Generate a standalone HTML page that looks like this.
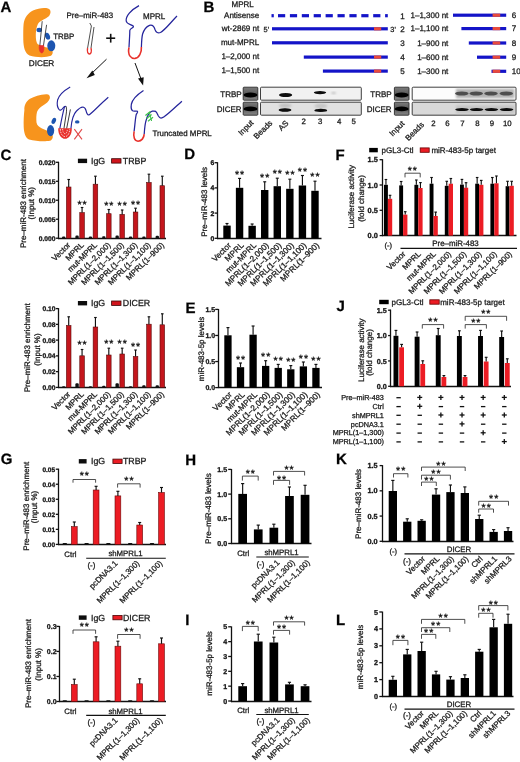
<!DOCTYPE html>
<html><head><meta charset="utf-8"><title>Figure</title>
<style>
html,body{margin:0;padding:0;background:#fff;width:520px;height:762px;overflow:hidden}
svg{display:block;font-family:"Liberation Sans", sans-serif}
text{stroke:#1a1a1a;stroke-width:0.28px;text-rendering:geometricPrecision}
text[font-weight=bold]{stroke-width:0.3px}
</style></head>
<body>
<div style="will-change:transform;width:520px;height:762px">
<svg width="520" height="762" viewBox="0 0 520 762">
<rect x="0" y="0" width="520" height="762" fill="#ffffff"/>
<text x="0.6" y="11.9" font-size="15" text-anchor="start" font-weight="bold" fill="#000">A</text>
<path d="M23.6 24 C24.5 17.5 28 13 33 10.5 C38 8.3 44 7.4 48 8.5 C50.8 9.4 51.3 12.5 49.4 15.5 C47.5 18 42 20 39 22.5 C36.8 25 36 30 35.8 35 C35.8 39 36.2 42 37.5 44 C40 46 45 47 49 48 C53 49 54 53.5 51 55.8 C46 57.8 36 57.6 29.5 55.5 C25 53.5 23.4 47 23.3 40 C23.2 33 23.2 28 23.6 24 Z" fill="#f7941d" stroke="none" stroke-width="0"/>
<ellipse cx="39.2" cy="30.0" rx="2.7" ry="2.2" fill="#1d55b0"/>
<ellipse cx="47.5" cy="36.2" rx="2.4" ry="3.6" fill="#1d55b0" transform="rotate(-20 47.5 36.2)"/>
<ellipse cx="51.3" cy="45.8" rx="4.0" ry="5.5" fill="#1d55b0"/>
<path d="M42.2 21.2 L39.8 46" fill="none" stroke="#222" stroke-width="0.8"/>
<path d="M46.6 24.8 L43.4 46" fill="none" stroke="#222" stroke-width="0.8"/>
<path d="M39.3 45.5 C38.6 50.5 40.5 53 41.8 53 C43 53 44.4 50.5 43.8 45.5 Z" fill="#e8312b" stroke="#e8312b" stroke-width="0.6"/>
<text x="53.2" y="39.14" font-size="7.9" text-anchor="start" fill="#222">TRBP</text>
<text x="28.8" y="66.15" font-size="8.2" text-anchor="start" fill="#222">DICER</text>
<text x="66.6" y="17.54" font-size="7.9" text-anchor="start" fill="#222">Pre–miR-483</text>
<path d="M89.8 23 L91.4 26 L87.6 48" fill="none" stroke="#222" stroke-width="0.8"/>
<path d="M94 27 L91 48" fill="none" stroke="#222" stroke-width="0.8"/>
<path d="M87.6 48 C86 56 93 56 91 48" fill="none" stroke="#e8312b" stroke-width="1.4"/>
<line x1="106.2" y1="38.2" x2="115.2" y2="38.2" stroke="#111" stroke-width="1.6"/>
<line x1="110.7" y1="33.8" x2="110.7" y2="42.6" stroke="#111" stroke-width="1.6"/>
<text x="143" y="19.08" font-size="8" text-anchor="start" fill="#222">MPRL</text>
<path d="M139 5.6 C131 10 125.5 16 126.2 21 C126.8 24.5 131 24.2 133.2 26 C134.5 27.6 130 28 129.8 30.5 C129.8 36 129.2 42 129 47.5" fill="none" stroke="#25259c" stroke-width="1.25"/>
<path d="M141.4 47 C141.6 41 141.8 37 142.6 34 C144 29.5 146.5 26.5 149.5 25.3 C152.5 24.5 154 26 155 29.5 C156 32.5 158 33.6 160.5 32.5 C165.5 29.5 171 22 177 16" fill="none" stroke="#25259c" stroke-width="1.25"/>
<path d="M129 47.5 C127.2 55.5 131.5 58.8 135 58.4 C139 57.8 141.8 52.5 141.4 47" fill="none" stroke="#e8312b" stroke-width="1.6"/>
<line x1="106.5" y1="59.2" x2="89.5" y2="75.5" stroke="#111" stroke-width="1"/>
<path d="M86.6 78.3 L92.4 70.5 L94.8 74.9 Z" fill="#111" stroke="none" stroke-width="0"/>
<line x1="135" y1="63" x2="141.6" y2="80.5" stroke="#111" stroke-width="1"/>
<path d="M143.1 85.4 L138.0 78.6 L143.7 77.2 Z" fill="#111" stroke="none" stroke-width="0"/>
<path d="M24.4 110 C24 106 26 101 30 98.75 C34 96.5 40 94.5 46.25 94.2 C49 94 50.5 96 49.8 98.5 C49 101.5 46 103.5 43 105.5 C40.5 107 38 109 37 112 C36.2 115 36.2 119 36.5 122.5 C37 125.5 39 127 42 128.5 C46 130 50 131.5 52.3 134.5 C53.5 137 52.5 140 50 140.8 C45 141.6 36 141.4 29 139.5 C25.5 138 24 133 23.7 127 C23.5 121 23.8 115 24.4 110 Z" fill="#f7941d" stroke="none" stroke-width="0"/>
<ellipse cx="53.8" cy="120.8" rx="2.0" ry="3.2" fill="#1d55b0" transform="rotate(25 53.8 120.8)"/>
<ellipse cx="50.6" cy="130.6" rx="3.6" ry="5.6" fill="#1d55b0"/>
<ellipse cx="77.2" cy="121.9" rx="2.3" ry="1.6" fill="#1d55b0"/>
<path d="M70.2 87 C65 90 59 95 57.6 100 C56.8 104 57.5 107.5 59 109.5 C60 110.8 61.5 110.2 63 108 C64 106.5 65.3 105.8 66.2 106.6" fill="none" stroke="#25259c" stroke-width="1.15"/>
<path d="M64.6 106.4 C63.4 111 61.8 118 59.8 128.6" fill="none" stroke="#25259c" stroke-width="1.15"/>
<path d="M70.9 128.8 C71.5 121 73.5 114 76.5 111 C78.5 108.8 80.5 107.2 83 107 C84.5 107.2 85.5 108.4 86 110.5 C86.6 113 87.2 114.8 88.6 115 C91 114.5 96 108 108.3 97.3" fill="none" stroke="#25259c" stroke-width="1.15"/>
<path d="M66 106.4 C66.8 108.5 66.6 111 66.2 114 L63.9 128.8" fill="none" stroke="#1a1a1a" stroke-width="0.85"/>
<path d="M70.4 109.4 L66.6 128.8" fill="none" stroke="#1a1a1a" stroke-width="0.85"/>
<path d="M58.2 128.2 L71.8 128.2 C72 134.8 68.5 138.8 65 138.8 C61.5 138.8 58 134.8 58.2 128.2 Z" fill="#e8312b" stroke="none" stroke-width="0"/>
<path d="M60.3 129 C60.4 133.6 62.5 136.6 65 136.6 C67.5 136.6 69.6 133.6 69.7 129" fill="none" stroke="#fff" stroke-width="0.8" stroke-dasharray="1.6 1.1"/>
<path d="M62.6 129 C62.7 131.8 63.7 133.8 65 133.8 C66.3 133.8 67.3 131.8 67.4 129" fill="none" stroke="#fff" stroke-width="0.7" stroke-dasharray="1.3 1.0"/>
<line x1="74.3" y1="129.2" x2="82" y2="139.4" stroke="#e04848" stroke-width="1.1"/>
<line x1="82" y1="129.2" x2="74.3" y2="139.4" stroke="#e04848" stroke-width="1.1"/>
<path d="M143.5 90.4 C138 94 132.5 99 131.4 104 C130.8 107.5 131.6 110 132.6 110.8 C134 111.6 136.2 110.6 137.5 111.2 C138.2 111.8 137 113.2 136.2 114.6 C135.4 118 135 124 134.1 131.4" fill="none" stroke="#25259c" stroke-width="1.25"/>
<path d="M144.2 134.1 C144.6 128 145.2 123 146.2 120 C147 117 148 115 148.9 113.9 C150 112.4 151 111.5 152.3 111.2 C154 110.9 155 111 155.7 111.4 C157 112.5 157.6 114.5 158.4 116 C159.2 117.4 160 118 161 118 C162.5 118 163.5 117.2 164.4 116.6 C170 112.5 176 106.5 181.9 101.2" fill="none" stroke="#25259c" stroke-width="1.25"/>
<path d="M134.1 131.4 C133 137 134.5 141 138 141.2 C141.5 141.2 144 138 144.2 134.1" fill="none" stroke="#e8312b" stroke-width="1.6"/>
<line x1="145.4" y1="115.6" x2="150.4" y2="111.6" stroke="#3cc04a" stroke-width="1.3"/>
<line x1="146.6" y1="118.6" x2="151.6" y2="114.6" stroke="#3cc04a" stroke-width="1.3"/>
<line x1="148" y1="121.2" x2="153" y2="117.2" stroke="#3cc04a" stroke-width="1.3"/>
<line x1="149.2" y1="112" x2="151.6" y2="121" stroke="#3cc04a" stroke-width="1"/>
<text x="152.4" y="135.64" font-size="7.9" text-anchor="start" fill="#222">Truncated MPRL</text>
<text x="203.6" y="12.2" font-size="15" text-anchor="start" font-weight="bold" fill="#000">B</text>
<text x="242.7" y="6.98" font-size="8" text-anchor="middle" fill="#1a1a1a">MPRL</text>
<text x="259.2" y="18.48" font-size="8" text-anchor="end" fill="#1a1a1a">Antisense</text>
<text x="259.2" y="31.28" font-size="8" text-anchor="end" fill="#1a1a1a">wt-2869 nt</text>
<text x="259.2" y="45.38" font-size="8" text-anchor="end" fill="#1a1a1a">mut-MPRL</text>
<text x="259.2" y="58.98" font-size="8" text-anchor="end" fill="#1a1a1a">1–2,000 nt</text>
<text x="259.2" y="73.38" font-size="8" text-anchor="end" fill="#1a1a1a">1–1,500 nt</text>
<rect x="271.5" y="14.1" width="2.3" height="3.2" fill="#1414c8"/>
<rect x="278" y="14.1" width="7.2" height="3.2" fill="#1414c8"/>
<rect x="289.9" y="14.1" width="7.2" height="3.2" fill="#1414c8"/>
<rect x="301.8" y="14.1" width="7.2" height="3.2" fill="#1414c8"/>
<rect x="313.7" y="14.1" width="7.2" height="3.2" fill="#1414c8"/>
<rect x="325.6" y="14.1" width="7.2" height="3.2" fill="#1414c8"/>
<rect x="337.5" y="14.1" width="7.2" height="3.2" fill="#1414c8"/>
<rect x="349.4" y="14.1" width="7.2" height="3.2" fill="#1414c8"/>
<rect x="361.3" y="14.1" width="7.2" height="3.2" fill="#1414c8"/>
<rect x="373.2" y="14.1" width="7.2" height="3.2" fill="#1414c8"/>
<rect x="385.1" y="14.1" width="2.7" height="3.2" fill="#1414c8"/>
<rect x="272" y="27.2" width="115.8" height="3.2" fill="#1414c8"/>
<rect x="374" y="27.2" width="7.2" height="3.2" fill="#e84a3c"/>
<rect x="272" y="41.2" width="115.8" height="3.2" fill="#1414c8"/>
<rect x="303.8" y="55.5" width="84" height="3.2" fill="#1414c8"/>
<rect x="374" y="55.5" width="7.2" height="3.2" fill="#e84a3c"/>
<rect x="322.9" y="69.5" width="64.9" height="3.2" fill="#1414c8"/>
<rect x="374" y="69.5" width="7.2" height="3.2" fill="#e84a3c"/>
<text x="263.6" y="32.46" font-size="7.4" text-anchor="start" fill="#1a1a1a">5'</text>
<text x="390.3" y="31.56" font-size="7.4" text-anchor="start" fill="#1a1a1a">3'</text>
<text x="400.2" y="18.58" font-size="8" text-anchor="start" fill="#1a1a1a">1</text>
<text x="400.2" y="31.68" font-size="8" text-anchor="start" fill="#1a1a1a">2</text>
<text x="400.2" y="45.68" font-size="8" text-anchor="start" fill="#1a1a1a">3</text>
<text x="400.2" y="59.98" font-size="8" text-anchor="start" fill="#1a1a1a">4</text>
<text x="400.2" y="73.98" font-size="8" text-anchor="start" fill="#1a1a1a">5</text>
<text x="448.3" y="18.08" font-size="8" text-anchor="end" fill="#1a1a1a">1–1,300 nt</text>
<rect x="453" y="13.6" width="53.2" height="3.2" fill="#1414c8"/>
<rect x="492.6" y="13.6" width="7.6" height="3.2" fill="#e84a3c"/>
<text x="511.8" y="18.08" font-size="8" text-anchor="start" fill="#1a1a1a">6</text>
<text x="448.3" y="31.48" font-size="8" text-anchor="end" fill="#1a1a1a">1–1,100 nt</text>
<rect x="461.4" y="27" width="44.8" height="3.2" fill="#1414c8"/>
<rect x="492.6" y="27" width="7.6" height="3.2" fill="#e84a3c"/>
<text x="511.8" y="31.48" font-size="8" text-anchor="start" fill="#1a1a1a">7</text>
<text x="448.3" y="45.88" font-size="8" text-anchor="end" fill="#1a1a1a">1–900 nt</text>
<rect x="468.8" y="41.4" width="37.4" height="3.2" fill="#1414c8"/>
<rect x="492.6" y="41.4" width="7.6" height="3.2" fill="#e84a3c"/>
<text x="511.8" y="45.88" font-size="8" text-anchor="start" fill="#1a1a1a">8</text>
<text x="448.3" y="60.08" font-size="8" text-anchor="end" fill="#1a1a1a">1–600 nt</text>
<rect x="477" y="55.6" width="29.2" height="3.2" fill="#1414c8"/>
<rect x="492.6" y="55.6" width="7.6" height="3.2" fill="#e84a3c"/>
<text x="511.8" y="60.08" font-size="8" text-anchor="start" fill="#1a1a1a">9</text>
<text x="448.3" y="74.18" font-size="8" text-anchor="end" fill="#1a1a1a">1–300 nt</text>
<rect x="491.5" y="69.7" width="14.7" height="3.2" fill="#1414c8"/>
<rect x="492.6" y="69.7" width="7.6" height="3.2" fill="#e84a3c"/>
<text x="511.8" y="74.18" font-size="8" text-anchor="start" fill="#1a1a1a">10</text>
<defs><filter id="bl1" x="-30%" y="-60%" width="160%" height="220%"><feGaussianBlur stdDeviation="0.7"/></filter><filter id="bl2" x="-30%" y="-60%" width="160%" height="220%"><feGaussianBlur stdDeviation="1.1"/></filter><linearGradient id="inpg" x1="0" y1="0" x2="0" y2="1"><stop offset="0" stop-color="#7c7c7c"/><stop offset="0.5" stop-color="#5a5a5a"/><stop offset="1" stop-color="#888888"/></linearGradient></defs>
<text x="241.6" y="97.48" font-size="8" text-anchor="end" fill="#1a1a1a">TRBP</text>
<text x="241.6" y="112.08" font-size="8" text-anchor="end" fill="#1a1a1a">DICER</text>
<rect x="243.2" y="87.2" width="14.6" height="13" fill="url(#inpg)" stroke="#2a2a2a" stroke-width="0.9" rx="0.8"/>
<ellipse cx="250.5" cy="95" rx="6.9" ry="2.4" fill="#030303" filter="url(#bl1)"/>
<rect x="243.2" y="102.2" width="14.6" height="13" fill="url(#inpg)" stroke="#2a2a2a" stroke-width="0.9" rx="0.8"/>
<ellipse cx="250.5" cy="108.9" rx="6.9" ry="2.4" fill="#030303" filter="url(#bl1)"/>
<rect x="260.5" y="87.2" width="100.8" height="13" fill="#f1f1f1" stroke="#2a2a2a" stroke-width="0.9" rx="1"/>
<rect x="260.5" y="102.2" width="100.8" height="13" fill="#e1e1e1" stroke="#2a2a2a" stroke-width="0.9" rx="1"/>
<ellipse cx="285.6" cy="95" rx="6.6" ry="2" fill="#080808" filter="url(#bl1)"/>
<ellipse cx="320" cy="92.6" rx="6.2" ry="1.6" fill="#101010" filter="url(#bl1)"/>
<ellipse cx="333.6" cy="93" rx="2.6" ry="0.9" fill="#bdbdbd" filter="url(#bl2)"/>
<ellipse cx="285.2" cy="105.6" rx="6.4" ry="2.4" fill="#c2c2c2" filter="url(#bl2)"/>
<ellipse cx="320.8" cy="106" rx="6.4" ry="2.4" fill="#c6c6c6" filter="url(#bl2)"/>
<ellipse cx="285" cy="110" rx="6.4" ry="1.7" fill="#080808" filter="url(#bl1)"/>
<ellipse cx="320.8" cy="110.4" rx="6.4" ry="1.7" fill="#080808" filter="url(#bl1)"/>
<text x="391.6" y="97.48" font-size="8" text-anchor="end" fill="#1a1a1a">TRBP</text>
<text x="391.6" y="112.08" font-size="8" text-anchor="end" fill="#1a1a1a">DICER</text>
<rect x="394.4" y="87.2" width="14.6" height="13" fill="url(#inpg)" stroke="#2a2a2a" stroke-width="0.9" rx="0.8"/>
<ellipse cx="401.7" cy="95" rx="6.9" ry="2.4" fill="#030303" filter="url(#bl1)"/>
<rect x="394.4" y="102.2" width="14.6" height="13" fill="url(#inpg)" stroke="#2a2a2a" stroke-width="0.9" rx="0.8"/>
<ellipse cx="401.7" cy="108.9" rx="6.9" ry="2.4" fill="#030303" filter="url(#bl1)"/>
<rect x="412.2" y="87.2" width="103.8" height="13" fill="#fcfcfc" stroke="#2a2a2a" stroke-width="0.9" rx="1"/>
<rect x="412.2" y="102.2" width="103.8" height="13" fill="#d9d9d9" stroke="#2a2a2a" stroke-width="0.9" rx="1"/>
<rect x="456" y="88.8" width="58.4" height="9.4" fill="#b4b4b4" filter="url(#bl2)"/>
<ellipse cx="461.8" cy="93.5" rx="6.8" ry="2" fill="#4e4e4e" filter="url(#bl1)"/>
<ellipse cx="476.2" cy="93.5" rx="6.8" ry="2" fill="#4e4e4e" filter="url(#bl1)"/>
<ellipse cx="491" cy="93.5" rx="6.8" ry="2" fill="#4e4e4e" filter="url(#bl1)"/>
<ellipse cx="506.3" cy="93.5" rx="6.8" ry="2" fill="#4e4e4e" filter="url(#bl1)"/>
<rect x="456" y="105.5" width="58.4" height="8" fill="#c4c4c4" filter="url(#bl2)"/>
<ellipse cx="462" cy="109.6" rx="6.8" ry="1.5" fill="#101010" filter="url(#bl1)"/>
<ellipse cx="476.6" cy="109.6" rx="6.8" ry="1.5" fill="#101010" filter="url(#bl1)"/>
<ellipse cx="491.4" cy="109.6" rx="6.8" ry="1.5" fill="#101010" filter="url(#bl1)"/>
<ellipse cx="506.6" cy="109.6" rx="6.8" ry="1.5" fill="#101010" filter="url(#bl1)"/>
<text x="254.1" y="123.37" font-size="8" text-anchor="end" fill="#1a1a1a" transform="rotate(-45 254.1 123.37)">Input</text>
<text x="272.9" y="123.57" font-size="8" text-anchor="end" fill="#1a1a1a" transform="rotate(-45 272.9 123.57)">Beads</text>
<text x="289.1" y="123.77" font-size="8" text-anchor="end" fill="#1a1a1a" transform="rotate(-45 289.1 123.77)">AS</text>
<text x="303.7" y="124.21" font-size="7.8" text-anchor="middle" fill="#1a1a1a">2</text>
<text x="320.2" y="124.21" font-size="7.8" text-anchor="middle" fill="#1a1a1a">3</text>
<text x="339.2" y="124.21" font-size="7.8" text-anchor="middle" fill="#1a1a1a">4</text>
<text x="353.6" y="124.21" font-size="7.8" text-anchor="middle" fill="#1a1a1a">5</text>
<text x="405.1" y="124.17" font-size="8" text-anchor="end" fill="#1a1a1a" transform="rotate(-45 405.1 124.17)">Input</text>
<text x="424.5" y="125.17" font-size="8" text-anchor="end" fill="#1a1a1a" transform="rotate(-45 424.5 125.17)">Beads</text>
<text x="433.5" y="126.31" font-size="7.8" text-anchor="middle" fill="#1a1a1a">2</text>
<text x="447.3" y="126.31" font-size="7.8" text-anchor="middle" fill="#1a1a1a">6</text>
<text x="462.3" y="126.31" font-size="7.8" text-anchor="middle" fill="#1a1a1a">7</text>
<text x="477.3" y="126.31" font-size="7.8" text-anchor="middle" fill="#1a1a1a">8</text>
<text x="491.8" y="126.31" font-size="7.8" text-anchor="middle" fill="#1a1a1a">9</text>
<text x="507.3" y="126.31" font-size="7.8" text-anchor="middle" fill="#1a1a1a">10</text>
<text x="0.6" y="159.7" font-size="15" text-anchor="start" font-weight="bold" fill="#000">C</text>
<line x1="58.5" y1="161.8" x2="58.5" y2="239.1" stroke="#111" stroke-width="1.3"/>
<line x1="57.9" y1="238.5" x2="166" y2="238.5" stroke="#111" stroke-width="1.3"/>
<line x1="55.8" y1="238.2" x2="58.6" y2="238.2" stroke="#111" stroke-width="1.3"/>
<text x="55.5" y="240.61" font-size="6.7" text-anchor="end" font-weight="bold" fill="#111">0.000</text>
<line x1="55.8" y1="219.22" x2="58.6" y2="219.22" stroke="#111" stroke-width="1.3"/>
<text x="55.5" y="221.64" font-size="6.7" text-anchor="end" font-weight="bold" fill="#111">0.005</text>
<line x1="55.8" y1="200.25" x2="58.6" y2="200.25" stroke="#111" stroke-width="1.3"/>
<text x="55.5" y="202.66" font-size="6.7" text-anchor="end" font-weight="bold" fill="#111">0.010</text>
<line x1="55.8" y1="181.28" x2="58.6" y2="181.28" stroke="#111" stroke-width="1.3"/>
<text x="55.5" y="183.69" font-size="6.7" text-anchor="end" font-weight="bold" fill="#111">0.015</text>
<line x1="55.8" y1="162.3" x2="58.6" y2="162.3" stroke="#111" stroke-width="1.3"/>
<text x="55.5" y="164.71" font-size="6.7" text-anchor="end" font-weight="bold" fill="#111">0.020</text>
<rect x="62" y="236.4" width="3.4" height="2.1" rx="1.2" fill="#111"/>
<rect x="66.4" y="187" width="4.6" height="51.2" fill="#c4161c" stroke="#5a0a0a" stroke-width="0.6"/>
<line x1="68.7" y1="187" x2="68.7" y2="179.5" stroke="#111" stroke-width="1.15"/>
<line x1="67.4" y1="179.5" x2="70" y2="179.5" stroke="#111" stroke-width="1.15"/>
<rect x="75.37" y="235.6" width="3.4" height="2.9" rx="1.2" fill="#111"/>
<rect x="79.77" y="212.6" width="4.6" height="25.6" fill="#c4161c" stroke="#5a0a0a" stroke-width="0.6"/>
<line x1="82.07" y1="212.6" x2="82.07" y2="207.5" stroke="#111" stroke-width="1.15"/>
<line x1="80.77" y1="207.5" x2="83.37" y2="207.5" stroke="#111" stroke-width="1.15"/>
<rect x="88.74" y="236.6" width="3.4" height="1.9" rx="1.2" fill="#111"/>
<rect x="93.14" y="184.2" width="4.6" height="54" fill="#c4161c" stroke="#5a0a0a" stroke-width="0.6"/>
<line x1="95.44" y1="184.2" x2="95.44" y2="176.2" stroke="#111" stroke-width="1.15"/>
<line x1="94.14" y1="176.2" x2="96.74" y2="176.2" stroke="#111" stroke-width="1.15"/>
<rect x="102.11" y="236.2" width="3.4" height="2.3" rx="1.2" fill="#111"/>
<rect x="106.51" y="213.7" width="4.6" height="24.5" fill="#c4161c" stroke="#5a0a0a" stroke-width="0.6"/>
<line x1="108.81" y1="213.7" x2="108.81" y2="209.5" stroke="#111" stroke-width="1.15"/>
<line x1="107.51" y1="209.5" x2="110.11" y2="209.5" stroke="#111" stroke-width="1.15"/>
<rect x="115.48" y="235.6" width="3.4" height="2.9" rx="1.2" fill="#111"/>
<rect x="119.88" y="214.4" width="4.6" height="23.8" fill="#c4161c" stroke="#5a0a0a" stroke-width="0.6"/>
<line x1="122.18" y1="214.4" x2="122.18" y2="210" stroke="#111" stroke-width="1.15"/>
<line x1="120.88" y1="210" x2="123.48" y2="210" stroke="#111" stroke-width="1.15"/>
<rect x="128.85" y="236.6" width="3.4" height="1.9" rx="1.2" fill="#111"/>
<rect x="133.25" y="212" width="4.6" height="26.2" fill="#c4161c" stroke="#5a0a0a" stroke-width="0.6"/>
<line x1="135.55" y1="212" x2="135.55" y2="208.2" stroke="#111" stroke-width="1.15"/>
<line x1="134.25" y1="208.2" x2="136.85" y2="208.2" stroke="#111" stroke-width="1.15"/>
<rect x="142.22" y="236.4" width="3.4" height="2.1" rx="1.2" fill="#111"/>
<rect x="146.62" y="182.5" width="4.6" height="55.7" fill="#c4161c" stroke="#5a0a0a" stroke-width="0.6"/>
<line x1="148.92" y1="182.5" x2="148.92" y2="174.2" stroke="#111" stroke-width="1.15"/>
<line x1="147.62" y1="174.2" x2="150.22" y2="174.2" stroke="#111" stroke-width="1.15"/>
<rect x="155.59" y="235.8" width="3.4" height="2.7" rx="1.2" fill="#111"/>
<rect x="159.99" y="185.7" width="4.6" height="52.5" fill="#c4161c" stroke="#5a0a0a" stroke-width="0.6"/>
<line x1="162.29" y1="185.7" x2="162.29" y2="176.2" stroke="#111" stroke-width="1.15"/>
<line x1="160.99" y1="176.2" x2="163.59" y2="176.2" stroke="#111" stroke-width="1.15"/>
<text x="82.62" y="207.96" font-size="10.5" text-anchor="middle" fill="#000" stroke="#000" stroke-width="0.25" letter-spacing="1.1">**</text>
<text x="109.36" y="208.66" font-size="10.5" text-anchor="middle" fill="#000" stroke="#000" stroke-width="0.25" letter-spacing="1.1">**</text>
<text x="122.73" y="208.86" font-size="10.5" text-anchor="middle" fill="#000" stroke="#000" stroke-width="0.25" letter-spacing="1.1">**</text>
<text x="136.1" y="207.76" font-size="10.5" text-anchor="middle" fill="#000" stroke="#000" stroke-width="0.25" letter-spacing="1.1">**</text>
<text x="71" y="245.57" font-size="8" text-anchor="end" fill="#1a1a1a" transform="rotate(-45 71 245.57)">Vector</text>
<text x="84.37" y="245.57" font-size="8" text-anchor="end" fill="#1a1a1a" transform="rotate(-45 84.37 245.57)">MPRL</text>
<text x="97.74" y="245.57" font-size="8" text-anchor="end" fill="#1a1a1a" transform="rotate(-45 97.74 245.57)">mut-MPRL</text>
<text x="111.11" y="245.57" font-size="8" text-anchor="end" fill="#1a1a1a" transform="rotate(-45 111.11 245.57)">MPRL(1–2,000)</text>
<text x="124.48" y="245.57" font-size="8" text-anchor="end" fill="#1a1a1a" transform="rotate(-45 124.48 245.57)">MPRL(1–1,500)</text>
<text x="137.85" y="245.57" font-size="8" text-anchor="end" fill="#1a1a1a" transform="rotate(-45 137.85 245.57)">MPRL(1–1,300)</text>
<text x="151.22" y="245.57" font-size="8" text-anchor="end" fill="#1a1a1a" transform="rotate(-45 151.22 245.57)">MPRL(1–1,100)</text>
<text x="164.59" y="245.57" font-size="8" text-anchor="end" fill="#1a1a1a" transform="rotate(-45 164.59 245.57)">MPRL(1–900)</text>
<rect x="77.9" y="158.7" width="9.2" height="4.4" fill="#0d0d0d"/>
<text x="91" y="164.07" font-size="8.8" text-anchor="start" fill="#1a1a1a">IgG</text>
<rect x="111.6" y="158.7" width="9.4" height="4.4" fill="#d0141c" stroke="#3a0505" stroke-width="0.8"/>
<text x="122.8" y="164.07" font-size="8.8" text-anchor="start" fill="#1a1a1a">TRBP</text>
<text dy="2.88" x="22.8" y="203.6" font-size="8" text-anchor="middle" fill="#1a1a1a" transform="rotate(-90 22.8 203.6)">Pre–miR-483 enrichment</text>
<text dy="2.88" x="31.4" y="203.2" font-size="8" text-anchor="middle" fill="#1a1a1a" transform="rotate(-90 31.4 203.2)">(Input %)</text>
<line x1="58.5" y1="308.1" x2="58.5" y2="388.1" stroke="#111" stroke-width="1.3"/>
<line x1="57.9" y1="387.5" x2="166" y2="387.5" stroke="#111" stroke-width="1.3"/>
<line x1="55.8" y1="387.4" x2="58.6" y2="387.4" stroke="#111" stroke-width="1.3"/>
<text x="55.5" y="389.81" font-size="6.7" text-anchor="end" font-weight="bold" fill="#111">0.00</text>
<line x1="55.8" y1="371.64" x2="58.6" y2="371.64" stroke="#111" stroke-width="1.3"/>
<text x="55.5" y="374.05" font-size="6.7" text-anchor="end" font-weight="bold" fill="#111">0.02</text>
<line x1="55.8" y1="355.88" x2="58.6" y2="355.88" stroke="#111" stroke-width="1.3"/>
<text x="55.5" y="358.29" font-size="6.7" text-anchor="end" font-weight="bold" fill="#111">0.04</text>
<line x1="55.8" y1="340.12" x2="58.6" y2="340.12" stroke="#111" stroke-width="1.3"/>
<text x="55.5" y="342.53" font-size="6.7" text-anchor="end" font-weight="bold" fill="#111">0.06</text>
<line x1="55.8" y1="324.36" x2="58.6" y2="324.36" stroke="#111" stroke-width="1.3"/>
<text x="55.5" y="326.77" font-size="6.7" text-anchor="end" font-weight="bold" fill="#111">0.08</text>
<line x1="55.8" y1="308.6" x2="58.6" y2="308.6" stroke="#111" stroke-width="1.3"/>
<text x="55.5" y="311.01" font-size="6.7" text-anchor="end" font-weight="bold" fill="#111">0.10</text>
<rect x="62" y="386.2" width="3.4" height="1.5" rx="1.2" fill="#111"/>
<rect x="66.4" y="325.5" width="4.6" height="61.9" fill="#c4161c" stroke="#5a0a0a" stroke-width="0.6"/>
<line x1="68.7" y1="325.5" x2="68.7" y2="316.8" stroke="#111" stroke-width="1.15"/>
<line x1="67.4" y1="316.8" x2="70" y2="316.8" stroke="#111" stroke-width="1.15"/>
<rect x="75.37" y="383.3" width="3.4" height="4.4" rx="1.2" fill="#111"/>
<rect x="79.77" y="355.8" width="4.6" height="31.6" fill="#c4161c" stroke="#5a0a0a" stroke-width="0.6"/>
<line x1="82.07" y1="355.8" x2="82.07" y2="349.5" stroke="#111" stroke-width="1.15"/>
<line x1="80.77" y1="349.5" x2="83.37" y2="349.5" stroke="#111" stroke-width="1.15"/>
<rect x="88.74" y="386.2" width="3.4" height="1.5" rx="1.2" fill="#111"/>
<rect x="93.14" y="327" width="4.6" height="60.4" fill="#c4161c" stroke="#5a0a0a" stroke-width="0.6"/>
<line x1="95.44" y1="327" x2="95.44" y2="317.5" stroke="#111" stroke-width="1.15"/>
<line x1="94.14" y1="317.5" x2="96.74" y2="317.5" stroke="#111" stroke-width="1.15"/>
<rect x="102.11" y="385.8" width="3.4" height="1.9" rx="1.2" fill="#111"/>
<rect x="106.51" y="355" width="4.6" height="32.4" fill="#c4161c" stroke="#5a0a0a" stroke-width="0.6"/>
<line x1="108.81" y1="355" x2="108.81" y2="348.2" stroke="#111" stroke-width="1.15"/>
<line x1="107.51" y1="348.2" x2="110.11" y2="348.2" stroke="#111" stroke-width="1.15"/>
<rect x="115.48" y="383.3" width="3.4" height="4.4" rx="1.2" fill="#111"/>
<rect x="119.88" y="354" width="4.6" height="33.4" fill="#c4161c" stroke="#5a0a0a" stroke-width="0.6"/>
<line x1="122.18" y1="354" x2="122.18" y2="348.2" stroke="#111" stroke-width="1.15"/>
<line x1="120.88" y1="348.2" x2="123.48" y2="348.2" stroke="#111" stroke-width="1.15"/>
<rect x="128.85" y="386.3" width="3.4" height="1.4" rx="1.2" fill="#111"/>
<rect x="133.25" y="356.5" width="4.6" height="30.9" fill="#c4161c" stroke="#5a0a0a" stroke-width="0.6"/>
<line x1="135.55" y1="356.5" x2="135.55" y2="350" stroke="#111" stroke-width="1.15"/>
<line x1="134.25" y1="350" x2="136.85" y2="350" stroke="#111" stroke-width="1.15"/>
<rect x="142.22" y="385.3" width="3.4" height="2.4" rx="1.2" fill="#111"/>
<rect x="146.62" y="324.2" width="4.6" height="63.2" fill="#c4161c" stroke="#5a0a0a" stroke-width="0.6"/>
<line x1="148.92" y1="324.2" x2="148.92" y2="316.8" stroke="#111" stroke-width="1.15"/>
<line x1="147.62" y1="316.8" x2="150.22" y2="316.8" stroke="#111" stroke-width="1.15"/>
<rect x="155.59" y="385.3" width="3.4" height="2.4" rx="1.2" fill="#111"/>
<rect x="159.99" y="324.8" width="4.6" height="62.6" fill="#c4161c" stroke="#5a0a0a" stroke-width="0.6"/>
<line x1="162.29" y1="324.8" x2="162.29" y2="313.8" stroke="#111" stroke-width="1.15"/>
<line x1="160.99" y1="313.8" x2="163.59" y2="313.8" stroke="#111" stroke-width="1.15"/>
<text x="82.62" y="348.46" font-size="10.5" text-anchor="middle" fill="#000" stroke="#000" stroke-width="0.25" letter-spacing="1.1">**</text>
<text x="109.36" y="347.46" font-size="10.5" text-anchor="middle" fill="#000" stroke="#000" stroke-width="0.25" letter-spacing="1.1">**</text>
<text x="122.73" y="347.46" font-size="10.5" text-anchor="middle" fill="#000" stroke="#000" stroke-width="0.25" letter-spacing="1.1">**</text>
<text x="136.1" y="349.66" font-size="10.5" text-anchor="middle" fill="#000" stroke="#000" stroke-width="0.25" letter-spacing="1.1">**</text>
<text x="71" y="394.77" font-size="8" text-anchor="end" fill="#1a1a1a" transform="rotate(-45 71 394.77)">Vector</text>
<text x="84.37" y="394.77" font-size="8" text-anchor="end" fill="#1a1a1a" transform="rotate(-45 84.37 394.77)">MPRL</text>
<text x="97.74" y="394.77" font-size="8" text-anchor="end" fill="#1a1a1a" transform="rotate(-45 97.74 394.77)">mut-MPRL</text>
<text x="111.11" y="394.77" font-size="8" text-anchor="end" fill="#1a1a1a" transform="rotate(-45 111.11 394.77)">MPRL(1–2,000)</text>
<text x="124.48" y="394.77" font-size="8" text-anchor="end" fill="#1a1a1a" transform="rotate(-45 124.48 394.77)">MPRL(1–1,500)</text>
<text x="137.85" y="394.77" font-size="8" text-anchor="end" fill="#1a1a1a" transform="rotate(-45 137.85 394.77)">MPRL(1–1,300)</text>
<text x="151.22" y="394.77" font-size="8" text-anchor="end" fill="#1a1a1a" transform="rotate(-45 151.22 394.77)">MPRL(1–1,100)</text>
<text x="164.59" y="394.77" font-size="8" text-anchor="end" fill="#1a1a1a" transform="rotate(-45 164.59 394.77)">MPRL(1–900)</text>
<rect x="77.9" y="301" width="9.2" height="4.4" fill="#0d0d0d"/>
<text x="91" y="306.37" font-size="8.8" text-anchor="start" fill="#1a1a1a">IgG</text>
<rect x="111.6" y="301" width="9.4" height="4.4" fill="#d0141c" stroke="#3a0505" stroke-width="0.8"/>
<text x="122.8" y="306.37" font-size="8.8" text-anchor="start" fill="#1a1a1a">DICER</text>
<text dy="2.88" x="27.4" y="347.8" font-size="8" text-anchor="middle" fill="#1a1a1a" transform="rotate(-90 27.4 347.8)">Pre–miR-483 enrichment</text>
<text dy="2.88" x="36.9" y="349.6" font-size="8" text-anchor="middle" fill="#1a1a1a" transform="rotate(-90 36.9 349.6)">(Input %)</text>
<text x="184.2" y="159.2" font-size="15" text-anchor="start" font-weight="bold" fill="#000">D</text>
<line x1="217.5" y1="162.2" x2="217.5" y2="239.1" stroke="#111" stroke-width="1.3"/>
<line x1="216.9" y1="238.5" x2="321.5" y2="238.5" stroke="#111" stroke-width="1.3"/>
<line x1="214.6" y1="238.3" x2="217.4" y2="238.3" stroke="#111" stroke-width="1.3"/>
<text x="214.2" y="240.75" font-size="6.8" text-anchor="end" font-weight="bold" fill="#111">0</text>
<line x1="214.6" y1="213.1" x2="217.4" y2="213.1" stroke="#111" stroke-width="1.3"/>
<text x="214.2" y="215.55" font-size="6.8" text-anchor="end" font-weight="bold" fill="#111">2</text>
<line x1="214.6" y1="187.9" x2="217.4" y2="187.9" stroke="#111" stroke-width="1.3"/>
<text x="214.2" y="190.35" font-size="6.8" text-anchor="end" font-weight="bold" fill="#111">4</text>
<line x1="214.6" y1="162.7" x2="217.4" y2="162.7" stroke="#111" stroke-width="1.3"/>
<text x="214.2" y="165.15" font-size="6.8" text-anchor="end" font-weight="bold" fill="#111">6</text>
<rect x="223.3" y="225.6" width="7.4" height="12.7" fill="#000"/>
<line x1="227" y1="225.6" x2="227" y2="223.5" stroke="#111" stroke-width="1.15"/>
<line x1="225.5" y1="223.5" x2="228.5" y2="223.5" stroke="#111" stroke-width="1.15"/>
<text x="231.6" y="245.87" font-size="8.2" text-anchor="end" fill="#1a1a1a" transform="rotate(-45 231.6 245.87)">Vector</text>
<rect x="235.87" y="187.8" width="7.4" height="50.5" fill="#000"/>
<line x1="239.57" y1="187.8" x2="239.57" y2="178.4" stroke="#111" stroke-width="1.15"/>
<line x1="238.07" y1="178.4" x2="241.07" y2="178.4" stroke="#111" stroke-width="1.15"/>
<text x="240.12" y="177.56" font-size="10.5" text-anchor="middle" fill="#000" stroke="#000" stroke-width="0.25" letter-spacing="1.1">**</text>
<text x="244.17" y="245.87" font-size="8.2" text-anchor="end" fill="#1a1a1a" transform="rotate(-45 244.17 245.87)">MPRL</text>
<rect x="248.44" y="225.8" width="7.4" height="12.5" fill="#000"/>
<line x1="252.14" y1="225.8" x2="252.14" y2="224" stroke="#111" stroke-width="1.15"/>
<line x1="250.64" y1="224" x2="253.64" y2="224" stroke="#111" stroke-width="1.15"/>
<text x="256.74" y="245.87" font-size="8.2" text-anchor="end" fill="#1a1a1a" transform="rotate(-45 256.74 245.87)">mut-MPRL</text>
<rect x="261.01" y="190" width="7.4" height="48.3" fill="#000"/>
<line x1="264.71" y1="190" x2="264.71" y2="181.8" stroke="#111" stroke-width="1.15"/>
<line x1="263.21" y1="181.8" x2="266.21" y2="181.8" stroke="#111" stroke-width="1.15"/>
<text x="265.26" y="180.96" font-size="10.5" text-anchor="middle" fill="#000" stroke="#000" stroke-width="0.25" letter-spacing="1.1">**</text>
<text x="269.31" y="245.87" font-size="8.2" text-anchor="end" fill="#1a1a1a" transform="rotate(-45 269.31 245.87)">MPRL(1–2,000)</text>
<rect x="273.58" y="186.2" width="7.4" height="52.1" fill="#000"/>
<line x1="277.28" y1="186.2" x2="277.28" y2="178.2" stroke="#111" stroke-width="1.15"/>
<line x1="275.78" y1="178.2" x2="278.78" y2="178.2" stroke="#111" stroke-width="1.15"/>
<text x="277.83" y="177.36" font-size="10.5" text-anchor="middle" fill="#000" stroke="#000" stroke-width="0.25" letter-spacing="1.1">**</text>
<text x="281.88" y="245.87" font-size="8.2" text-anchor="end" fill="#1a1a1a" transform="rotate(-45 281.88 245.87)">MPRL(1–1,500)</text>
<rect x="286.15" y="188.8" width="7.4" height="49.5" fill="#000"/>
<line x1="289.85" y1="188.8" x2="289.85" y2="179.2" stroke="#111" stroke-width="1.15"/>
<line x1="288.35" y1="179.2" x2="291.35" y2="179.2" stroke="#111" stroke-width="1.15"/>
<text x="290.4" y="178.36" font-size="10.5" text-anchor="middle" fill="#000" stroke="#000" stroke-width="0.25" letter-spacing="1.1">**</text>
<text x="294.45" y="245.87" font-size="8.2" text-anchor="end" fill="#1a1a1a" transform="rotate(-45 294.45 245.87)">MPRL(1–1,300)</text>
<rect x="298.72" y="185.5" width="7.4" height="52.8" fill="#000"/>
<line x1="302.42" y1="185.5" x2="302.42" y2="175.5" stroke="#111" stroke-width="1.15"/>
<line x1="300.92" y1="175.5" x2="303.92" y2="175.5" stroke="#111" stroke-width="1.15"/>
<text x="302.97" y="174.66" font-size="10.5" text-anchor="middle" fill="#000" stroke="#000" stroke-width="0.25" letter-spacing="1.1">**</text>
<text x="307.02" y="245.87" font-size="8.2" text-anchor="end" fill="#1a1a1a" transform="rotate(-45 307.02 245.87)">MPRL(1–1,100)</text>
<rect x="311.29" y="190.8" width="7.4" height="47.5" fill="#000"/>
<line x1="314.99" y1="190.8" x2="314.99" y2="181.2" stroke="#111" stroke-width="1.15"/>
<line x1="313.49" y1="181.2" x2="316.49" y2="181.2" stroke="#111" stroke-width="1.15"/>
<text x="315.54" y="180.36" font-size="10.5" text-anchor="middle" fill="#000" stroke="#000" stroke-width="0.25" letter-spacing="1.1">**</text>
<text x="319.59" y="245.87" font-size="8.2" text-anchor="end" fill="#1a1a1a" transform="rotate(-45 319.59 245.87)">MPRL(1–900)</text>
<text dy="2.88" x="204.6" y="201.8" font-size="8" text-anchor="middle" fill="#1a1a1a" transform="rotate(-90 204.6 201.8)">Pre–miR-483 levels</text>
<text x="185.4" y="313.4" font-size="15" text-anchor="start" font-weight="bold" fill="#000">E</text>
<line x1="218.5" y1="308.9" x2="218.5" y2="388.1" stroke="#111" stroke-width="1.3"/>
<line x1="217.9" y1="387.5" x2="322" y2="387.5" stroke="#111" stroke-width="1.3"/>
<line x1="215.2" y1="387.6" x2="218" y2="387.6" stroke="#111" stroke-width="1.3"/>
<text x="215.2" y="390.12" font-size="7" text-anchor="end" font-weight="bold" fill="#111">0.0</text>
<line x1="215.2" y1="361.53" x2="218" y2="361.53" stroke="#111" stroke-width="1.3"/>
<text x="215.2" y="364.05" font-size="7" text-anchor="end" font-weight="bold" fill="#111">0.5</text>
<line x1="215.2" y1="335.47" x2="218" y2="335.47" stroke="#111" stroke-width="1.3"/>
<text x="215.2" y="337.99" font-size="7" text-anchor="end" font-weight="bold" fill="#111">1.0</text>
<line x1="215.2" y1="309.4" x2="218" y2="309.4" stroke="#111" stroke-width="1.3"/>
<text x="215.2" y="311.92" font-size="7" text-anchor="end" font-weight="bold" fill="#111">1.5</text>
<rect x="224.3" y="335.3" width="7.3" height="52.3" fill="#000"/>
<line x1="227.95" y1="335.3" x2="227.95" y2="327.6" stroke="#111" stroke-width="1.15"/>
<line x1="226.45" y1="327.6" x2="229.45" y2="327.6" stroke="#111" stroke-width="1.15"/>
<text x="232.55" y="395.17" font-size="8.2" text-anchor="end" fill="#1a1a1a" transform="rotate(-45 232.55 395.17)">Vector</text>
<rect x="236.87" y="367.2" width="7.3" height="20.4" fill="#000"/>
<line x1="240.52" y1="367.2" x2="240.52" y2="363" stroke="#111" stroke-width="1.15"/>
<line x1="239.02" y1="363" x2="242.02" y2="363" stroke="#111" stroke-width="1.15"/>
<text x="241.07" y="362.66" font-size="10.5" text-anchor="middle" fill="#000" stroke="#000" stroke-width="0.25" letter-spacing="1.1">**</text>
<text x="245.12" y="395.17" font-size="8.2" text-anchor="end" fill="#1a1a1a" transform="rotate(-45 245.12 395.17)">MPRL</text>
<rect x="249.44" y="334.7" width="7.3" height="52.9" fill="#000"/>
<line x1="253.09" y1="334.7" x2="253.09" y2="326" stroke="#111" stroke-width="1.15"/>
<line x1="251.59" y1="326" x2="254.59" y2="326" stroke="#111" stroke-width="1.15"/>
<text x="257.69" y="395.17" font-size="8.2" text-anchor="end" fill="#1a1a1a" transform="rotate(-45 257.69 395.17)">mut-MPRL</text>
<rect x="262.01" y="365.9" width="7.3" height="21.7" fill="#000"/>
<line x1="265.66" y1="365.9" x2="265.66" y2="360.7" stroke="#111" stroke-width="1.15"/>
<line x1="264.16" y1="360.7" x2="267.16" y2="360.7" stroke="#111" stroke-width="1.15"/>
<text x="266.21" y="360.36" font-size="10.5" text-anchor="middle" fill="#000" stroke="#000" stroke-width="0.25" letter-spacing="1.1">**</text>
<text x="270.26" y="395.17" font-size="8.2" text-anchor="end" fill="#1a1a1a" transform="rotate(-45 270.26 395.17)">MPRL(1–2,000)</text>
<rect x="274.58" y="367.9" width="7.3" height="19.7" fill="#000"/>
<line x1="278.23" y1="367.9" x2="278.23" y2="364.4" stroke="#111" stroke-width="1.15"/>
<line x1="276.73" y1="364.4" x2="279.73" y2="364.4" stroke="#111" stroke-width="1.15"/>
<text x="278.78" y="364.06" font-size="10.5" text-anchor="middle" fill="#000" stroke="#000" stroke-width="0.25" letter-spacing="1.1">**</text>
<text x="282.83" y="395.17" font-size="8.2" text-anchor="end" fill="#1a1a1a" transform="rotate(-45 282.83 395.17)">MPRL(1–1,500)</text>
<rect x="287.15" y="369.3" width="7.3" height="18.3" fill="#000"/>
<line x1="290.8" y1="369.3" x2="290.8" y2="365.6" stroke="#111" stroke-width="1.15"/>
<line x1="289.3" y1="365.6" x2="292.3" y2="365.6" stroke="#111" stroke-width="1.15"/>
<text x="291.35" y="365.26" font-size="10.5" text-anchor="middle" fill="#000" stroke="#000" stroke-width="0.25" letter-spacing="1.1">**</text>
<text x="295.4" y="395.17" font-size="8.2" text-anchor="end" fill="#1a1a1a" transform="rotate(-45 295.4 395.17)">MPRL(1–1,300)</text>
<rect x="299.72" y="366.4" width="7.3" height="21.2" fill="#000"/>
<line x1="303.37" y1="366.4" x2="303.37" y2="362" stroke="#111" stroke-width="1.15"/>
<line x1="301.87" y1="362" x2="304.87" y2="362" stroke="#111" stroke-width="1.15"/>
<text x="303.92" y="361.66" font-size="10.5" text-anchor="middle" fill="#000" stroke="#000" stroke-width="0.25" letter-spacing="1.1">**</text>
<text x="307.97" y="395.17" font-size="8.2" text-anchor="end" fill="#1a1a1a" transform="rotate(-45 307.97 395.17)">MPRL(1–1,100)</text>
<rect x="312.29" y="367.9" width="7.3" height="19.7" fill="#000"/>
<line x1="315.94" y1="367.9" x2="315.94" y2="364.4" stroke="#111" stroke-width="1.15"/>
<line x1="314.44" y1="364.4" x2="317.44" y2="364.4" stroke="#111" stroke-width="1.15"/>
<text x="316.49" y="364.06" font-size="10.5" text-anchor="middle" fill="#000" stroke="#000" stroke-width="0.25" letter-spacing="1.1">**</text>
<text x="320.54" y="395.17" font-size="8.2" text-anchor="end" fill="#1a1a1a" transform="rotate(-45 320.54 395.17)">MPRL(1–900)</text>
<text dy="2.88" x="200.7" y="349" font-size="8" text-anchor="middle" fill="#1a1a1a" transform="rotate(-90 200.7 349)">miR-483-5p levels</text>
<text x="335.4" y="160.2" font-size="15" text-anchor="start" font-weight="bold" fill="#000">F</text>
<line x1="382.5" y1="159.2" x2="382.5" y2="236.1" stroke="#111" stroke-width="1.3"/>
<line x1="381.9" y1="235.5" x2="516.5" y2="235.5" stroke="#111" stroke-width="1.3"/>
<line x1="379.6" y1="235.6" x2="382.4" y2="235.6" stroke="#111" stroke-width="1.3"/>
<text x="377.9" y="238.26" font-size="7.4" text-anchor="end" font-weight="bold" fill="#111">0.0</text>
<line x1="379.6" y1="210.3" x2="382.4" y2="210.3" stroke="#111" stroke-width="1.3"/>
<text x="377.9" y="212.96" font-size="7.4" text-anchor="end" font-weight="bold" fill="#111">0.5</text>
<line x1="379.6" y1="185" x2="382.4" y2="185" stroke="#111" stroke-width="1.3"/>
<text x="377.9" y="187.66" font-size="7.4" text-anchor="end" font-weight="bold" fill="#111">1.0</text>
<line x1="379.6" y1="159.7" x2="382.4" y2="159.7" stroke="#111" stroke-width="1.3"/>
<text x="377.9" y="162.36" font-size="7.4" text-anchor="end" font-weight="bold" fill="#111">1.5</text>
<rect x="384" y="184.8" width="3.9" height="50.8" fill="#000"/>
<line x1="385.95" y1="184.8" x2="385.95" y2="179.5" stroke="#111" stroke-width="1.15"/>
<line x1="384.65" y1="179.5" x2="387.25" y2="179.5" stroke="#111" stroke-width="1.15"/>
<rect x="387.9" y="198.8" width="4.3" height="36.8" fill="#ec1c24"/>
<line x1="390.05" y1="198.8" x2="390.05" y2="195.3" stroke="#111" stroke-width="1.15"/>
<line x1="388.75" y1="195.3" x2="391.35" y2="195.3" stroke="#111" stroke-width="1.15"/>
<rect x="399.2" y="185.4" width="3.9" height="50.2" fill="#000"/>
<line x1="401.15" y1="185.4" x2="401.15" y2="181.5" stroke="#111" stroke-width="1.15"/>
<line x1="399.85" y1="181.5" x2="402.45" y2="181.5" stroke="#111" stroke-width="1.15"/>
<rect x="403.1" y="214.6" width="4.3" height="21" fill="#ec1c24"/>
<line x1="405.25" y1="214.6" x2="405.25" y2="211.7" stroke="#111" stroke-width="1.15"/>
<line x1="403.95" y1="211.7" x2="406.55" y2="211.7" stroke="#111" stroke-width="1.15"/>
<rect x="414.4" y="184.8" width="3.9" height="50.8" fill="#000"/>
<line x1="416.35" y1="184.8" x2="416.35" y2="180" stroke="#111" stroke-width="1.15"/>
<line x1="415.05" y1="180" x2="417.65" y2="180" stroke="#111" stroke-width="1.15"/>
<rect x="418.3" y="188" width="4.3" height="47.6" fill="#ec1c24"/>
<line x1="420.45" y1="188" x2="420.45" y2="182.6" stroke="#111" stroke-width="1.15"/>
<line x1="419.15" y1="182.6" x2="421.75" y2="182.6" stroke="#111" stroke-width="1.15"/>
<rect x="429.6" y="183.7" width="3.9" height="51.9" fill="#000"/>
<line x1="431.55" y1="183.7" x2="431.55" y2="177.5" stroke="#111" stroke-width="1.15"/>
<line x1="430.25" y1="177.5" x2="432.85" y2="177.5" stroke="#111" stroke-width="1.15"/>
<rect x="433.5" y="216" width="4.3" height="19.6" fill="#ec1c24"/>
<line x1="435.65" y1="216" x2="435.65" y2="212.1" stroke="#111" stroke-width="1.15"/>
<line x1="434.35" y1="212.1" x2="436.95" y2="212.1" stroke="#111" stroke-width="1.15"/>
<rect x="444.8" y="185.8" width="3.9" height="49.8" fill="#000"/>
<line x1="446.75" y1="185.8" x2="446.75" y2="181.3" stroke="#111" stroke-width="1.15"/>
<line x1="445.45" y1="181.3" x2="448.05" y2="181.3" stroke="#111" stroke-width="1.15"/>
<rect x="448.7" y="183.7" width="4.3" height="51.9" fill="#ec1c24"/>
<line x1="450.85" y1="183.7" x2="450.85" y2="178.5" stroke="#111" stroke-width="1.15"/>
<line x1="449.55" y1="178.5" x2="452.15" y2="178.5" stroke="#111" stroke-width="1.15"/>
<rect x="460" y="184.6" width="3.9" height="51" fill="#000"/>
<line x1="461.95" y1="184.6" x2="461.95" y2="179.4" stroke="#111" stroke-width="1.15"/>
<line x1="460.65" y1="179.4" x2="463.25" y2="179.4" stroke="#111" stroke-width="1.15"/>
<rect x="463.9" y="187.7" width="4.3" height="47.9" fill="#ec1c24"/>
<line x1="466.05" y1="187.7" x2="466.05" y2="182.7" stroke="#111" stroke-width="1.15"/>
<line x1="464.75" y1="182.7" x2="467.35" y2="182.7" stroke="#111" stroke-width="1.15"/>
<rect x="475.2" y="183.7" width="3.9" height="51.9" fill="#000"/>
<line x1="477.15" y1="183.7" x2="477.15" y2="177.5" stroke="#111" stroke-width="1.15"/>
<line x1="475.85" y1="177.5" x2="478.45" y2="177.5" stroke="#111" stroke-width="1.15"/>
<rect x="479.1" y="184.8" width="4.3" height="50.8" fill="#ec1c24"/>
<line x1="481.25" y1="184.8" x2="481.25" y2="180.4" stroke="#111" stroke-width="1.15"/>
<line x1="479.95" y1="180.4" x2="482.55" y2="180.4" stroke="#111" stroke-width="1.15"/>
<rect x="490.4" y="183.7" width="3.9" height="51.9" fill="#000"/>
<line x1="492.35" y1="183.7" x2="492.35" y2="177.5" stroke="#111" stroke-width="1.15"/>
<line x1="491.05" y1="177.5" x2="493.65" y2="177.5" stroke="#111" stroke-width="1.15"/>
<rect x="494.3" y="183.3" width="4.3" height="52.3" fill="#ec1c24"/>
<line x1="496.45" y1="183.3" x2="496.45" y2="176" stroke="#111" stroke-width="1.15"/>
<line x1="495.15" y1="176" x2="497.75" y2="176" stroke="#111" stroke-width="1.15"/>
<rect x="505.6" y="186.2" width="3.9" height="49.4" fill="#000"/>
<line x1="507.55" y1="186.2" x2="507.55" y2="181.3" stroke="#111" stroke-width="1.15"/>
<line x1="506.25" y1="181.3" x2="508.85" y2="181.3" stroke="#111" stroke-width="1.15"/>
<rect x="509.5" y="185.8" width="4.3" height="49.8" fill="#ec1c24"/>
<line x1="511.65" y1="185.8" x2="511.65" y2="181.3" stroke="#111" stroke-width="1.15"/>
<line x1="510.35" y1="181.3" x2="512.95" y2="181.3" stroke="#111" stroke-width="1.15"/>
<path d="M405 177.4 V173.2 H420.2 V177.4" fill="none" stroke="#222" stroke-width="0.8"/>
<text x="412.85" y="173.66" font-size="10.5" text-anchor="middle" fill="#000" stroke="#000" stroke-width="0.25" letter-spacing="1.1">**</text>
<rect x="369.2" y="147.9" width="8.6" height="4.4" fill="#000"/>
<text x="381.6" y="152.98" font-size="8" text-anchor="start" fill="#1a1a1a">pGL3-Ctl</text>
<rect x="420.2" y="147.9" width="9" height="4.4" fill="#ec1c24" stroke="#600" stroke-width="0.8"/>
<text x="431.4" y="152.98" font-size="8" text-anchor="start" fill="#1a1a1a">miR-483-5p target</text>
<text dy="2.88" x="351.5" y="196.8" font-size="8" text-anchor="middle" fill="#1a1a1a" transform="rotate(-90 351.5 196.8)">Luciferase activity</text>
<text dy="2.88" x="361.2" y="198.5" font-size="8" text-anchor="middle" fill="#1a1a1a" transform="rotate(-90 361.2 198.5)">(fold change)</text>
<text x="388.2" y="248.04" font-size="7.6" text-anchor="middle" fill="#1a1a1a">(-)</text>
<text x="455.5" y="245.64" font-size="7.9" text-anchor="middle" fill="#1a1a1a">Pre–miR-483</text>
<line x1="400.5" y1="248.3" x2="517" y2="248.3" stroke="#111" stroke-width="1.15"/>
<text x="406.1" y="254.57" font-size="8" text-anchor="end" fill="#1a1a1a" transform="rotate(-45 406.1 254.57)">Vector</text>
<text x="421.3" y="254.57" font-size="8" text-anchor="end" fill="#1a1a1a" transform="rotate(-45 421.3 254.57)">MPRL</text>
<text x="436.5" y="254.57" font-size="8" text-anchor="end" fill="#1a1a1a" transform="rotate(-45 436.5 254.57)">mut-MPRL</text>
<text x="451.7" y="254.57" font-size="8" text-anchor="end" fill="#1a1a1a" transform="rotate(-45 451.7 254.57)">MPRL(1–2,000)</text>
<text x="466.9" y="254.57" font-size="8" text-anchor="end" fill="#1a1a1a" transform="rotate(-45 466.9 254.57)">MPRL(1–1,500)</text>
<text x="482.1" y="254.57" font-size="8" text-anchor="end" fill="#1a1a1a" transform="rotate(-45 482.1 254.57)">MPRL(1–1,300)</text>
<text x="497.3" y="254.57" font-size="8" text-anchor="end" fill="#1a1a1a" transform="rotate(-45 497.3 254.57)">MPRL(1–1,100)</text>
<text x="512.5" y="254.57" font-size="8" text-anchor="end" fill="#1a1a1a" transform="rotate(-45 512.5 254.57)">MPRL(1–900)</text>
<text x="336.6" y="311.4" font-size="15" text-anchor="start" font-weight="bold" fill="#000">J</text>
<line x1="390.5" y1="309.7" x2="390.5" y2="387.1" stroke="#111" stroke-width="1.3"/>
<line x1="389.9" y1="386.5" x2="511" y2="386.5" stroke="#111" stroke-width="1.3"/>
<line x1="388.1" y1="386.3" x2="390.9" y2="386.3" stroke="#111" stroke-width="1.3"/>
<text x="386.8" y="388.89" font-size="7.2" text-anchor="end" font-weight="bold" fill="#111">0.0</text>
<line x1="388.1" y1="360.93" x2="390.9" y2="360.93" stroke="#111" stroke-width="1.3"/>
<text x="386.8" y="363.53" font-size="7.2" text-anchor="end" font-weight="bold" fill="#111">0.5</text>
<line x1="388.1" y1="335.57" x2="390.9" y2="335.57" stroke="#111" stroke-width="1.3"/>
<text x="386.8" y="338.16" font-size="7.2" text-anchor="end" font-weight="bold" fill="#111">1.0</text>
<line x1="388.1" y1="310.2" x2="390.9" y2="310.2" stroke="#111" stroke-width="1.3"/>
<text x="386.8" y="312.79" font-size="7.2" text-anchor="end" font-weight="bold" fill="#111">1.5</text>
<rect x="393.5" y="335.8" width="4.9" height="50.5" fill="#000"/>
<line x1="395.95" y1="335.8" x2="395.95" y2="330.4" stroke="#111" stroke-width="1.15"/>
<line x1="394.55" y1="330.4" x2="397.35" y2="330.4" stroke="#111" stroke-width="1.15"/>
<rect x="399.2" y="347.3" width="4.8" height="39" fill="#ec1c24"/>
<line x1="401.6" y1="347.3" x2="401.6" y2="344.4" stroke="#111" stroke-width="1.15"/>
<line x1="400.2" y1="344.4" x2="403" y2="344.4" stroke="#111" stroke-width="1.15"/>
<rect x="414.64" y="336.7" width="4.9" height="49.6" fill="#000"/>
<line x1="417.09" y1="336.7" x2="417.09" y2="332" stroke="#111" stroke-width="1.15"/>
<line x1="415.69" y1="332" x2="418.49" y2="332" stroke="#111" stroke-width="1.15"/>
<rect x="420.34" y="364" width="4.8" height="22.3" fill="#ec1c24"/>
<line x1="422.74" y1="364" x2="422.74" y2="360.8" stroke="#111" stroke-width="1.15"/>
<line x1="421.34" y1="360.8" x2="424.14" y2="360.8" stroke="#111" stroke-width="1.15"/>
<rect x="435.78" y="335.2" width="4.9" height="51.1" fill="#000"/>
<line x1="438.23" y1="335.2" x2="438.23" y2="328.5" stroke="#111" stroke-width="1.15"/>
<line x1="436.83" y1="328.5" x2="439.63" y2="328.5" stroke="#111" stroke-width="1.15"/>
<rect x="441.48" y="377" width="4.8" height="9.3" fill="#ec1c24"/>
<line x1="443.88" y1="377" x2="443.88" y2="375.6" stroke="#111" stroke-width="1.15"/>
<line x1="442.48" y1="375.6" x2="445.28" y2="375.6" stroke="#111" stroke-width="1.15"/>
<rect x="456.92" y="336" width="4.9" height="50.3" fill="#000"/>
<line x1="459.37" y1="336" x2="459.37" y2="330.8" stroke="#111" stroke-width="1.15"/>
<line x1="457.97" y1="330.8" x2="460.77" y2="330.8" stroke="#111" stroke-width="1.15"/>
<rect x="462.62" y="377" width="4.8" height="9.3" fill="#ec1c24"/>
<line x1="465.02" y1="377" x2="465.02" y2="375.6" stroke="#111" stroke-width="1.15"/>
<line x1="463.62" y1="375.6" x2="466.42" y2="375.6" stroke="#111" stroke-width="1.15"/>
<rect x="478.06" y="336" width="4.9" height="50.3" fill="#000"/>
<line x1="480.51" y1="336" x2="480.51" y2="330.4" stroke="#111" stroke-width="1.15"/>
<line x1="479.11" y1="330.4" x2="481.91" y2="330.4" stroke="#111" stroke-width="1.15"/>
<rect x="483.76" y="361.5" width="4.8" height="24.8" fill="#ec1c24"/>
<line x1="486.16" y1="361.5" x2="486.16" y2="357.3" stroke="#111" stroke-width="1.15"/>
<line x1="484.76" y1="357.3" x2="487.56" y2="357.3" stroke="#111" stroke-width="1.15"/>
<rect x="499.2" y="337" width="4.9" height="49.3" fill="#000"/>
<line x1="501.65" y1="337" x2="501.65" y2="331" stroke="#111" stroke-width="1.15"/>
<line x1="500.25" y1="331" x2="503.05" y2="331" stroke="#111" stroke-width="1.15"/>
<rect x="504.9" y="363" width="4.8" height="23.3" fill="#ec1c24"/>
<line x1="507.3" y1="363" x2="507.3" y2="358.8" stroke="#111" stroke-width="1.15"/>
<line x1="505.9" y1="358.8" x2="508.7" y2="358.8" stroke="#111" stroke-width="1.15"/>
<path d="M422.3 328.6 V324.6 H443.6 V328.6" fill="none" stroke="#222" stroke-width="0.8"/>
<text x="433.55" y="325.26" font-size="10.5" text-anchor="middle" fill="#000" stroke="#000" stroke-width="0.25" letter-spacing="1.1">**</text>
<path d="M465.2 328.6 V324.6 H486.4 V328.6" fill="none" stroke="#222" stroke-width="0.8"/>
<text x="476.35" y="326.06" font-size="10.5" text-anchor="middle" fill="#000" stroke="#000" stroke-width="0.25" letter-spacing="1.1">**</text>
<path d="M465.2 320.8 V316.3 H506.6 V320.8" fill="none" stroke="#222" stroke-width="0.8"/>
<text x="486.35" y="317.46" font-size="10.5" text-anchor="middle" fill="#000" stroke="#000" stroke-width="0.25" letter-spacing="1.1">**</text>
<rect x="379.2" y="299.8" width="9.5" height="4.4" fill="#000"/>
<text x="391.5" y="304.88" font-size="8" text-anchor="start" fill="#1a1a1a">pGL3-Ctl</text>
<rect x="429.8" y="299.8" width="9.4" height="4.4" fill="#ec1c24" stroke="#600" stroke-width="0.8"/>
<text x="440.2" y="304.88" font-size="8" text-anchor="start" fill="#1a1a1a">miR-483-5p target</text>
<text dy="2.88" x="360.8" y="350.2" font-size="8" text-anchor="middle" fill="#1a1a1a" transform="rotate(-90 360.8 350.2)">Luciferase activity</text>
<text dy="2.88" x="369.4" y="352.5" font-size="8" text-anchor="middle" fill="#1a1a1a" transform="rotate(-90 369.4 352.5)">(fold change)</text>
<text x="383.9" y="400.01" font-size="7.25" text-anchor="end" fill="#1a1a1a">Pre–miR-483</text>
<line x1="396.4" y1="397.7" x2="400.8" y2="397.7" stroke="#111" stroke-width="1.3"/>
<line x1="417.24" y1="397.4" x2="422.24" y2="397.4" stroke="#111" stroke-width="1.3"/>
<line x1="419.74" y1="394.9" x2="419.74" y2="399.9" stroke="#111" stroke-width="1.3"/>
<line x1="438.38" y1="397.4" x2="443.38" y2="397.4" stroke="#111" stroke-width="1.3"/>
<line x1="440.88" y1="394.9" x2="440.88" y2="399.9" stroke="#111" stroke-width="1.3"/>
<line x1="459.52" y1="397.4" x2="464.52" y2="397.4" stroke="#111" stroke-width="1.3"/>
<line x1="462.02" y1="394.9" x2="462.02" y2="399.9" stroke="#111" stroke-width="1.3"/>
<line x1="480.66" y1="397.4" x2="485.66" y2="397.4" stroke="#111" stroke-width="1.3"/>
<line x1="483.16" y1="394.9" x2="483.16" y2="399.9" stroke="#111" stroke-width="1.3"/>
<line x1="501.8" y1="397.4" x2="506.8" y2="397.4" stroke="#111" stroke-width="1.3"/>
<line x1="504.3" y1="394.9" x2="504.3" y2="399.9" stroke="#111" stroke-width="1.3"/>
<text x="383.9" y="408.91" font-size="7.25" text-anchor="end" fill="#1a1a1a">Ctrl</text>
<line x1="396.4" y1="406.6" x2="400.8" y2="406.6" stroke="#111" stroke-width="1.3"/>
<line x1="417.24" y1="406.3" x2="422.24" y2="406.3" stroke="#111" stroke-width="1.3"/>
<line x1="419.74" y1="403.8" x2="419.74" y2="408.8" stroke="#111" stroke-width="1.3"/>
<line x1="438.68" y1="406.6" x2="443.08" y2="406.6" stroke="#111" stroke-width="1.3"/>
<line x1="459.82" y1="406.6" x2="464.22" y2="406.6" stroke="#111" stroke-width="1.3"/>
<line x1="480.96" y1="406.6" x2="485.36" y2="406.6" stroke="#111" stroke-width="1.3"/>
<line x1="502.1" y1="406.6" x2="506.5" y2="406.6" stroke="#111" stroke-width="1.3"/>
<text x="383.9" y="417.61" font-size="7.25" text-anchor="end" fill="#1a1a1a">shMPRL1</text>
<line x1="396.4" y1="415.3" x2="400.8" y2="415.3" stroke="#111" stroke-width="1.3"/>
<line x1="417.54" y1="415.3" x2="421.94" y2="415.3" stroke="#111" stroke-width="1.3"/>
<line x1="438.38" y1="415" x2="443.38" y2="415" stroke="#111" stroke-width="1.3"/>
<line x1="440.88" y1="412.5" x2="440.88" y2="417.5" stroke="#111" stroke-width="1.3"/>
<line x1="459.52" y1="415" x2="464.52" y2="415" stroke="#111" stroke-width="1.3"/>
<line x1="462.02" y1="412.5" x2="462.02" y2="417.5" stroke="#111" stroke-width="1.3"/>
<line x1="480.66" y1="415" x2="485.66" y2="415" stroke="#111" stroke-width="1.3"/>
<line x1="483.16" y1="412.5" x2="483.16" y2="417.5" stroke="#111" stroke-width="1.3"/>
<line x1="501.8" y1="415" x2="506.8" y2="415" stroke="#111" stroke-width="1.3"/>
<line x1="504.3" y1="412.5" x2="504.3" y2="417.5" stroke="#111" stroke-width="1.3"/>
<text x="383.9" y="426.51" font-size="7.25" text-anchor="end" fill="#1a1a1a">pcDNA3.1</text>
<line x1="396.4" y1="424.2" x2="400.8" y2="424.2" stroke="#111" stroke-width="1.3"/>
<line x1="417.54" y1="424.2" x2="421.94" y2="424.2" stroke="#111" stroke-width="1.3"/>
<line x1="438.68" y1="424.2" x2="443.08" y2="424.2" stroke="#111" stroke-width="1.3"/>
<line x1="459.52" y1="423.9" x2="464.52" y2="423.9" stroke="#111" stroke-width="1.3"/>
<line x1="462.02" y1="421.4" x2="462.02" y2="426.4" stroke="#111" stroke-width="1.3"/>
<line x1="480.96" y1="424.2" x2="485.36" y2="424.2" stroke="#111" stroke-width="1.3"/>
<line x1="502.1" y1="424.2" x2="506.5" y2="424.2" stroke="#111" stroke-width="1.3"/>
<text x="383.9" y="435.41" font-size="7.25" text-anchor="end" fill="#1a1a1a">MPRL(1–1,300)</text>
<line x1="396.4" y1="433.1" x2="400.8" y2="433.1" stroke="#111" stroke-width="1.3"/>
<line x1="417.54" y1="433.1" x2="421.94" y2="433.1" stroke="#111" stroke-width="1.3"/>
<line x1="438.68" y1="433.1" x2="443.08" y2="433.1" stroke="#111" stroke-width="1.3"/>
<line x1="459.82" y1="433.1" x2="464.22" y2="433.1" stroke="#111" stroke-width="1.3"/>
<line x1="480.66" y1="432.8" x2="485.66" y2="432.8" stroke="#111" stroke-width="1.3"/>
<line x1="483.16" y1="430.3" x2="483.16" y2="435.3" stroke="#111" stroke-width="1.3"/>
<line x1="502.1" y1="433.1" x2="506.5" y2="433.1" stroke="#111" stroke-width="1.3"/>
<text x="383.9" y="444.21" font-size="7.25" text-anchor="end" fill="#1a1a1a">MPRL(1–1,100)</text>
<line x1="396.4" y1="441.9" x2="400.8" y2="441.9" stroke="#111" stroke-width="1.3"/>
<line x1="417.54" y1="441.9" x2="421.94" y2="441.9" stroke="#111" stroke-width="1.3"/>
<line x1="438.68" y1="441.9" x2="443.08" y2="441.9" stroke="#111" stroke-width="1.3"/>
<line x1="459.82" y1="441.9" x2="464.22" y2="441.9" stroke="#111" stroke-width="1.3"/>
<line x1="480.96" y1="441.9" x2="485.36" y2="441.9" stroke="#111" stroke-width="1.3"/>
<line x1="501.8" y1="441.6" x2="506.8" y2="441.6" stroke="#111" stroke-width="1.3"/>
<line x1="504.3" y1="439.1" x2="504.3" y2="444.1" stroke="#111" stroke-width="1.3"/>
<text x="0.8" y="463.6" font-size="15" text-anchor="start" font-weight="bold" fill="#000">G</text>
<line x1="58.5" y1="468.7" x2="58.5" y2="545.1" stroke="#111" stroke-width="1.3"/>
<line x1="57.9" y1="544.5" x2="166" y2="544.5" stroke="#111" stroke-width="1.3"/>
<line x1="55.8" y1="544.4" x2="58.6" y2="544.4" stroke="#111" stroke-width="1.3"/>
<text x="55.1" y="546.74" font-size="6.5" text-anchor="end" font-weight="bold" fill="#111">0.00</text>
<line x1="55.8" y1="529.36" x2="58.6" y2="529.36" stroke="#111" stroke-width="1.3"/>
<text x="55.1" y="531.7" font-size="6.5" text-anchor="end" font-weight="bold" fill="#111">0.01</text>
<line x1="55.8" y1="514.32" x2="58.6" y2="514.32" stroke="#111" stroke-width="1.3"/>
<text x="55.1" y="516.66" font-size="6.5" text-anchor="end" font-weight="bold" fill="#111">0.02</text>
<line x1="55.8" y1="499.28" x2="58.6" y2="499.28" stroke="#111" stroke-width="1.3"/>
<text x="55.1" y="501.62" font-size="6.5" text-anchor="end" font-weight="bold" fill="#111">0.03</text>
<line x1="55.8" y1="484.24" x2="58.6" y2="484.24" stroke="#111" stroke-width="1.3"/>
<text x="55.1" y="486.58" font-size="6.5" text-anchor="end" font-weight="bold" fill="#111">0.04</text>
<line x1="55.8" y1="469.2" x2="58.6" y2="469.2" stroke="#111" stroke-width="1.3"/>
<text x="55.1" y="471.54" font-size="6.5" text-anchor="end" font-weight="bold" fill="#111">0.05</text>
<rect x="62.6" y="543.1" width="4.4" height="1.6" rx="0.8" fill="#111"/>
<rect x="71.4" y="526.6" width="5.8" height="17.8" fill="#ec1c24" stroke="#6a0808" stroke-width="0.6"/>
<line x1="74.3" y1="526.6" x2="74.3" y2="522" stroke="#111" stroke-width="1.15"/>
<line x1="72.8" y1="522" x2="75.8" y2="522" stroke="#111" stroke-width="1.15"/>
<rect x="84.4" y="543.1" width="4.4" height="1.6" rx="0.8" fill="#111"/>
<rect x="93.2" y="490" width="5.8" height="54.4" fill="#ec1c24" stroke="#6a0808" stroke-width="0.6"/>
<line x1="96.1" y1="490" x2="96.1" y2="486.3" stroke="#111" stroke-width="1.15"/>
<line x1="94.6" y1="486.3" x2="97.6" y2="486.3" stroke="#111" stroke-width="1.15"/>
<rect x="106.2" y="543.1" width="4.4" height="1.6" rx="0.8" fill="#111"/>
<rect x="115" y="495.9" width="5.8" height="48.5" fill="#ec1c24" stroke="#6a0808" stroke-width="0.6"/>
<line x1="117.9" y1="495.9" x2="117.9" y2="491.3" stroke="#111" stroke-width="1.15"/>
<line x1="116.4" y1="491.3" x2="119.4" y2="491.3" stroke="#111" stroke-width="1.15"/>
<rect x="128" y="543.1" width="4.4" height="1.6" rx="0.8" fill="#111"/>
<rect x="136.8" y="525" width="5.8" height="19.4" fill="#ec1c24" stroke="#6a0808" stroke-width="0.6"/>
<line x1="139.7" y1="525" x2="139.7" y2="522.5" stroke="#111" stroke-width="1.15"/>
<line x1="138.2" y1="522.5" x2="141.2" y2="522.5" stroke="#111" stroke-width="1.15"/>
<rect x="149.8" y="543.1" width="4.4" height="1.6" rx="0.8" fill="#111"/>
<rect x="158.6" y="492.5" width="5.8" height="51.9" fill="#ec1c24" stroke="#6a0808" stroke-width="0.6"/>
<line x1="161.5" y1="492.5" x2="161.5" y2="487.5" stroke="#111" stroke-width="1.15"/>
<line x1="160" y1="487.5" x2="163" y2="487.5" stroke="#111" stroke-width="1.15"/>
<path d="M73 482.7 V479.5 H95.6 V482.7" fill="none" stroke="#222" stroke-width="0.8"/>
<text x="84.85" y="479.26" font-size="10.5" text-anchor="middle" fill="#000" stroke="#000" stroke-width="0.25" letter-spacing="1.1">**</text>
<path d="M117.6 487.6 V483.8 H140.1 V487.6" fill="none" stroke="#222" stroke-width="0.8"/>
<text x="129.4" y="484.26" font-size="10.5" text-anchor="middle" fill="#000" stroke="#000" stroke-width="0.25" letter-spacing="1.1">**</text>
<rect x="78.8" y="459.1" width="7.8" height="4.4" fill="#0d0d0d"/>
<text x="91" y="464.47" font-size="8.8" text-anchor="start" fill="#1a1a1a">IgG</text>
<rect x="112.9" y="459.1" width="9.2" height="4.4" fill="#ec1c24" stroke="#4a0505" stroke-width="0.8"/>
<text x="123" y="464.47" font-size="8.8" text-anchor="start" fill="#1a1a1a">TRBP</text>
<text x="70.4" y="557.21" font-size="7.8" text-anchor="middle" fill="#1a1a1a">Ctrl</text>
<text x="125.5" y="556.41" font-size="7.8" text-anchor="middle" fill="#1a1a1a">shMPRL1</text>
<line x1="86.2" y1="558.2" x2="165.8" y2="558.2" stroke="#111" stroke-width="1.15"/>
<text x="91.4" y="567.88" font-size="8" text-anchor="middle" fill="#1a1a1a">(-)</text>
<text x="118.2" y="563.77" font-size="8" text-anchor="end" fill="#1a1a1a" transform="rotate(-45 118.2 563.77)">pcDNA3.1</text>
<text x="140" y="563.77" font-size="8" text-anchor="end" fill="#1a1a1a" transform="rotate(-45 140 563.77)">MPRL(1–1,300)</text>
<text x="162.8" y="563.77" font-size="8" text-anchor="end" fill="#1a1a1a" transform="rotate(-45 162.8 563.77)">MPRL(1–1,100)</text>
<text dy="2.88" x="26" y="506.2" font-size="8" text-anchor="middle" fill="#1a1a1a" transform="rotate(-90 26 506.2)">Pre–miR-483 enrichment</text>
<text dy="2.88" x="34.6" y="507" font-size="8" text-anchor="middle" fill="#1a1a1a" transform="rotate(-90 34.6 507)">(Input %)</text>
<line x1="59.5" y1="625.9" x2="59.5" y2="702.1" stroke="#111" stroke-width="1.3"/>
<line x1="58.9" y1="701.5" x2="166" y2="701.5" stroke="#111" stroke-width="1.3"/>
<line x1="56.4" y1="701.5" x2="59.2" y2="701.5" stroke="#111" stroke-width="1.3"/>
<text x="56.6" y="704.02" font-size="7" text-anchor="end" font-weight="bold" fill="#111">0.0</text>
<line x1="56.4" y1="676.47" x2="59.2" y2="676.47" stroke="#111" stroke-width="1.3"/>
<text x="56.6" y="678.99" font-size="7" text-anchor="end" font-weight="bold" fill="#111">0.1</text>
<line x1="56.4" y1="651.43" x2="59.2" y2="651.43" stroke="#111" stroke-width="1.3"/>
<text x="56.6" y="653.95" font-size="7" text-anchor="end" font-weight="bold" fill="#111">0.2</text>
<line x1="56.4" y1="626.4" x2="59.2" y2="626.4" stroke="#111" stroke-width="1.3"/>
<text x="56.6" y="628.92" font-size="7" text-anchor="end" font-weight="bold" fill="#111">0.3</text>
<rect x="62.6" y="700.2" width="4.4" height="1.6" rx="0.8" fill="#111"/>
<rect x="71.4" y="684.5" width="5.8" height="17" fill="#ec1c24" stroke="#6a0808" stroke-width="0.6"/>
<line x1="74.3" y1="684.5" x2="74.3" y2="679.2" stroke="#111" stroke-width="1.15"/>
<line x1="72.8" y1="679.2" x2="75.8" y2="679.2" stroke="#111" stroke-width="1.15"/>
<rect x="84.4" y="700.2" width="4.4" height="1.6" rx="0.8" fill="#111"/>
<rect x="93.2" y="641.8" width="5.8" height="59.7" fill="#ec1c24" stroke="#6a0808" stroke-width="0.6"/>
<line x1="96.1" y1="641.8" x2="96.1" y2="636.8" stroke="#111" stroke-width="1.15"/>
<line x1="94.6" y1="636.8" x2="97.6" y2="636.8" stroke="#111" stroke-width="1.15"/>
<rect x="106.2" y="700.2" width="4.4" height="1.6" rx="0.8" fill="#111"/>
<rect x="115" y="646.2" width="5.8" height="55.3" fill="#ec1c24" stroke="#6a0808" stroke-width="0.6"/>
<line x1="117.9" y1="646.2" x2="117.9" y2="641.2" stroke="#111" stroke-width="1.15"/>
<line x1="116.4" y1="641.2" x2="119.4" y2="641.2" stroke="#111" stroke-width="1.15"/>
<rect x="128" y="700.2" width="4.4" height="1.6" rx="0.8" fill="#111"/>
<rect x="136.8" y="683.8" width="5.8" height="17.7" fill="#ec1c24" stroke="#6a0808" stroke-width="0.6"/>
<line x1="139.7" y1="683.8" x2="139.7" y2="678.8" stroke="#111" stroke-width="1.15"/>
<line x1="138.2" y1="678.8" x2="141.2" y2="678.8" stroke="#111" stroke-width="1.15"/>
<rect x="149.8" y="700.2" width="4.4" height="1.6" rx="0.8" fill="#111"/>
<rect x="158.6" y="643.8" width="5.8" height="57.7" fill="#ec1c24" stroke="#6a0808" stroke-width="0.6"/>
<line x1="161.5" y1="643.8" x2="161.5" y2="638" stroke="#111" stroke-width="1.15"/>
<line x1="160" y1="638" x2="163" y2="638" stroke="#111" stroke-width="1.15"/>
<path d="M73 633.8 V630 H95.6 V633.8" fill="none" stroke="#222" stroke-width="0.8"/>
<text x="84.85" y="630.46" font-size="10.5" text-anchor="middle" fill="#000" stroke="#000" stroke-width="0.25" letter-spacing="1.1">**</text>
<path d="M117.6 638.8 V634.5 H140.1 V638.8" fill="none" stroke="#222" stroke-width="0.8"/>
<text x="129.4" y="635.06" font-size="10.5" text-anchor="middle" fill="#000" stroke="#000" stroke-width="0.25" letter-spacing="1.1">**</text>
<rect x="78.8" y="615.4" width="7.8" height="4.4" fill="#0d0d0d"/>
<text x="91" y="620.77" font-size="8.8" text-anchor="start" fill="#1a1a1a">IgG</text>
<rect x="112.9" y="615.4" width="9.2" height="4.4" fill="#ec1c24" stroke="#4a0505" stroke-width="0.8"/>
<text x="123" y="620.77" font-size="8.8" text-anchor="start" fill="#1a1a1a">DICER</text>
<text x="70.4" y="714.31" font-size="7.8" text-anchor="middle" fill="#1a1a1a">Ctrl</text>
<text x="125.5" y="713.51" font-size="7.8" text-anchor="middle" fill="#1a1a1a">shMPRL1</text>
<line x1="86.2" y1="715.3" x2="165.8" y2="715.3" stroke="#111" stroke-width="1.15"/>
<text x="91.4" y="724.98" font-size="8" text-anchor="middle" fill="#1a1a1a">(-)</text>
<text x="118.2" y="720.87" font-size="8" text-anchor="end" fill="#1a1a1a" transform="rotate(-45 118.2 720.87)">pcDNA3.1</text>
<text x="140" y="720.87" font-size="8" text-anchor="end" fill="#1a1a1a" transform="rotate(-45 140 720.87)">MPRL(1–1,300)</text>
<text x="162.8" y="720.87" font-size="8" text-anchor="end" fill="#1a1a1a" transform="rotate(-45 162.8 720.87)">MPRL(1–1,100)</text>
<text dy="2.88" x="28.6" y="663.6" font-size="8" text-anchor="middle" fill="#1a1a1a" transform="rotate(-90 28.6 663.6)">Pre–miR-483 enrichment</text>
<text dy="2.88" x="38.4" y="664.4" font-size="8" text-anchor="middle" fill="#1a1a1a" transform="rotate(-90 38.4 664.4)">(Input %)</text>
<text x="185.2" y="464.8" font-size="15" text-anchor="start" font-weight="bold" fill="#000">H</text>
<line x1="231.5" y1="468.9" x2="231.5" y2="544.1" stroke="#111" stroke-width="1.3"/>
<line x1="230.9" y1="543.5" x2="311.5" y2="543.5" stroke="#111" stroke-width="1.3"/>
<line x1="228.2" y1="543.5" x2="231" y2="543.5" stroke="#111" stroke-width="1.3"/>
<text x="227.1" y="546.06" font-size="7.1" text-anchor="end" font-weight="bold" fill="#111">0.0</text>
<line x1="228.2" y1="518.8" x2="231" y2="518.8" stroke="#111" stroke-width="1.3"/>
<text x="227.1" y="521.36" font-size="7.1" text-anchor="end" font-weight="bold" fill="#111">0.5</text>
<line x1="228.2" y1="494.1" x2="231" y2="494.1" stroke="#111" stroke-width="1.3"/>
<text x="227.1" y="496.66" font-size="7.1" text-anchor="end" font-weight="bold" fill="#111">1.0</text>
<line x1="228.2" y1="469.4" x2="231" y2="469.4" stroke="#111" stroke-width="1.3"/>
<text x="227.1" y="471.96" font-size="7.1" text-anchor="end" font-weight="bold" fill="#111">1.5</text>
<rect x="238.3" y="493.9" width="8.7" height="49.6" fill="#000"/>
<line x1="242.65" y1="493.9" x2="242.65" y2="483.6" stroke="#111" stroke-width="1.15"/>
<line x1="241.05" y1="483.6" x2="244.25" y2="483.6" stroke="#111" stroke-width="1.15"/>
<rect x="253.9" y="529.4" width="8.7" height="14.1" fill="#000"/>
<line x1="258.25" y1="529.4" x2="258.25" y2="525.1" stroke="#111" stroke-width="1.15"/>
<line x1="256.65" y1="525.1" x2="259.85" y2="525.1" stroke="#111" stroke-width="1.15"/>
<rect x="269.5" y="527.7" width="8.7" height="15.8" fill="#000"/>
<line x1="273.85" y1="527.7" x2="273.85" y2="524.2" stroke="#111" stroke-width="1.15"/>
<line x1="272.25" y1="524.2" x2="275.45" y2="524.2" stroke="#111" stroke-width="1.15"/>
<rect x="285.1" y="496" width="8.7" height="47.5" fill="#000"/>
<line x1="289.45" y1="496" x2="289.45" y2="487" stroke="#111" stroke-width="1.15"/>
<line x1="287.85" y1="487" x2="291.05" y2="487" stroke="#111" stroke-width="1.15"/>
<rect x="300.7" y="494.8" width="8.7" height="48.7" fill="#000"/>
<line x1="305.05" y1="494.8" x2="305.05" y2="485.3" stroke="#111" stroke-width="1.15"/>
<line x1="303.45" y1="485.3" x2="306.65" y2="485.3" stroke="#111" stroke-width="1.15"/>
<path d="M242.4 480.6 V476.1 H258.2 V480.6" fill="none" stroke="#222" stroke-width="0.8"/>
<text x="250.85" y="476.86" font-size="10.5" text-anchor="middle" fill="#000" stroke="#000" stroke-width="0.25" letter-spacing="1.1">**</text>
<path d="M273.5 484.8 V480.4 H289.6 V484.8" fill="none" stroke="#222" stroke-width="0.8"/>
<text x="282.1" y="482.66" font-size="10.5" text-anchor="middle" fill="#000" stroke="#000" stroke-width="0.25" letter-spacing="1.1">**</text>
<path d="M273.5 475.5 V471.4 H304.6 V475.5" fill="none" stroke="#222" stroke-width="0.8"/>
<text x="289.6" y="472.56" font-size="10.5" text-anchor="middle" fill="#000" stroke="#000" stroke-width="0.25" letter-spacing="1.1">**</text>
<text x="243.3" y="555.71" font-size="7.8" text-anchor="middle" fill="#1a1a1a">Ctrl</text>
<text x="281.5" y="555.11" font-size="7.8" text-anchor="middle" fill="#1a1a1a">shMPRL1</text>
<line x1="256.3" y1="557" x2="308.8" y2="557" stroke="#111" stroke-width="1.15"/>
<text x="260.4" y="566.98" font-size="8" text-anchor="middle" fill="#1a1a1a">(-)</text>
<text x="280.1" y="563.07" font-size="8" text-anchor="end" fill="#1a1a1a" transform="rotate(-45 280.1 563.07)">pcDNA3.1</text>
<text x="295.3" y="563.07" font-size="8" text-anchor="end" fill="#1a1a1a" transform="rotate(-45 295.3 563.07)">MPRL(1–1,300)</text>
<text x="310.4" y="563.07" font-size="8" text-anchor="end" fill="#1a1a1a" transform="rotate(-45 310.4 563.07)">MPRL(1–1,100)</text>
<text dy="2.92" x="208" y="508.6" font-size="8.1" text-anchor="middle" fill="#1a1a1a" transform="rotate(-90 208 508.6)">Pre–miR-483 levels</text>
<text x="185.2" y="624.6" font-size="15" text-anchor="start" font-weight="bold" fill="#000">I</text>
<line x1="231.5" y1="626.3" x2="231.5" y2="702.1" stroke="#111" stroke-width="1.3"/>
<line x1="230.9" y1="701.5" x2="311.5" y2="701.5" stroke="#111" stroke-width="1.3"/>
<line x1="228.2" y1="701" x2="231" y2="701" stroke="#111" stroke-width="1.3"/>
<text x="227.1" y="703.56" font-size="7.1" text-anchor="end" font-weight="bold" fill="#111">0</text>
<line x1="228.2" y1="686.16" x2="231" y2="686.16" stroke="#111" stroke-width="1.3"/>
<text x="227.1" y="688.72" font-size="7.1" text-anchor="end" font-weight="bold" fill="#111">1</text>
<line x1="228.2" y1="671.32" x2="231" y2="671.32" stroke="#111" stroke-width="1.3"/>
<text x="227.1" y="673.88" font-size="7.1" text-anchor="end" font-weight="bold" fill="#111">2</text>
<line x1="228.2" y1="656.48" x2="231" y2="656.48" stroke="#111" stroke-width="1.3"/>
<text x="227.1" y="659.04" font-size="7.1" text-anchor="end" font-weight="bold" fill="#111">3</text>
<line x1="228.2" y1="641.64" x2="231" y2="641.64" stroke="#111" stroke-width="1.3"/>
<text x="227.1" y="644.2" font-size="7.1" text-anchor="end" font-weight="bold" fill="#111">4</text>
<line x1="228.2" y1="626.8" x2="231" y2="626.8" stroke="#111" stroke-width="1.3"/>
<text x="227.1" y="629.36" font-size="7.1" text-anchor="end" font-weight="bold" fill="#111">5</text>
<rect x="238.3" y="686.2" width="8.7" height="14.8" fill="#000"/>
<line x1="242.65" y1="686.2" x2="242.65" y2="683.6" stroke="#111" stroke-width="1.15"/>
<line x1="241.05" y1="683.6" x2="244.25" y2="683.6" stroke="#111" stroke-width="1.15"/>
<rect x="253.9" y="641.5" width="8.7" height="59.5" fill="#000"/>
<line x1="258.25" y1="641.5" x2="258.25" y2="634.2" stroke="#111" stroke-width="1.15"/>
<line x1="256.65" y1="634.2" x2="259.85" y2="634.2" stroke="#111" stroke-width="1.15"/>
<rect x="269.5" y="642.5" width="8.7" height="58.5" fill="#000"/>
<line x1="273.85" y1="642.5" x2="273.85" y2="637.2" stroke="#111" stroke-width="1.15"/>
<line x1="272.25" y1="637.2" x2="275.45" y2="637.2" stroke="#111" stroke-width="1.15"/>
<rect x="285.1" y="684.4" width="8.7" height="16.6" fill="#000"/>
<line x1="289.45" y1="684.4" x2="289.45" y2="682.3" stroke="#111" stroke-width="1.15"/>
<line x1="287.85" y1="682.3" x2="291.05" y2="682.3" stroke="#111" stroke-width="1.15"/>
<rect x="300.7" y="686.2" width="8.7" height="14.8" fill="#000"/>
<line x1="305.05" y1="686.2" x2="305.05" y2="684.8" stroke="#111" stroke-width="1.15"/>
<line x1="303.45" y1="684.8" x2="306.65" y2="684.8" stroke="#111" stroke-width="1.15"/>
<path d="M242.4 631.1 V626.4 H258.2 V631.1" fill="none" stroke="#222" stroke-width="0.8"/>
<text x="250.85" y="627.96" font-size="10.5" text-anchor="middle" fill="#000" stroke="#000" stroke-width="0.25" letter-spacing="1.1">**</text>
<path d="M273.5 634.6 V630.4 H289.6 V634.6" fill="none" stroke="#222" stroke-width="0.8"/>
<text x="282.1" y="631.86" font-size="10.5" text-anchor="middle" fill="#000" stroke="#000" stroke-width="0.25" letter-spacing="1.1">**</text>
<path d="M273.5 625.6 V621.8 H304.6 V625.6" fill="none" stroke="#222" stroke-width="0.8"/>
<text x="289.6" y="622.76" font-size="10.5" text-anchor="middle" fill="#000" stroke="#000" stroke-width="0.25" letter-spacing="1.1">**</text>
<text x="243.3" y="713.21" font-size="7.8" text-anchor="middle" fill="#1a1a1a">Ctrl</text>
<text x="281.5" y="712.61" font-size="7.8" text-anchor="middle" fill="#1a1a1a">shMPRL1</text>
<line x1="256.3" y1="714.5" x2="308.8" y2="714.5" stroke="#111" stroke-width="1.15"/>
<text x="260.4" y="724.48" font-size="8" text-anchor="middle" fill="#1a1a1a">(-)</text>
<text x="280.1" y="720.57" font-size="8" text-anchor="end" fill="#1a1a1a" transform="rotate(-45 280.1 720.57)">pcDNA3.1</text>
<text x="295.3" y="720.57" font-size="8" text-anchor="end" fill="#1a1a1a" transform="rotate(-45 295.3 720.57)">MPRL(1–1,300)</text>
<text x="310.4" y="720.57" font-size="8" text-anchor="end" fill="#1a1a1a" transform="rotate(-45 310.4 720.57)">MPRL(1–1,100)</text>
<text dy="2.88" x="208.8" y="663.5" font-size="8" text-anchor="middle" fill="#1a1a1a" transform="rotate(-90 208.8 663.5)">miR-483-5p levels</text>
<text x="336" y="464.2" font-size="15" text-anchor="start" font-weight="bold" fill="#000">K</text>
<line x1="382.5" y1="465.1" x2="382.5" y2="542.1" stroke="#111" stroke-width="1.3"/>
<line x1="381.9" y1="541.5" x2="513.5" y2="541.5" stroke="#111" stroke-width="1.3"/>
<line x1="379.6" y1="541.3" x2="382.4" y2="541.3" stroke="#111" stroke-width="1.3"/>
<text x="377.6" y="543.93" font-size="7.3" text-anchor="end" font-weight="bold" fill="#111">0.0</text>
<line x1="379.6" y1="516.07" x2="382.4" y2="516.07" stroke="#111" stroke-width="1.3"/>
<text x="377.6" y="518.69" font-size="7.3" text-anchor="end" font-weight="bold" fill="#111">0.5</text>
<line x1="379.6" y1="490.83" x2="382.4" y2="490.83" stroke="#111" stroke-width="1.3"/>
<text x="377.6" y="493.46" font-size="7.3" text-anchor="end" font-weight="bold" fill="#111">1.0</text>
<line x1="379.6" y1="465.6" x2="382.4" y2="465.6" stroke="#111" stroke-width="1.3"/>
<text x="377.6" y="468.23" font-size="7.3" text-anchor="end" font-weight="bold" fill="#111">1.5</text>
<rect x="388.7" y="491" width="8.3" height="50.3" fill="#000"/>
<line x1="392.85" y1="491" x2="392.85" y2="480.4" stroke="#111" stroke-width="1.15"/>
<line x1="391.25" y1="480.4" x2="394.45" y2="480.4" stroke="#111" stroke-width="1.15"/>
<rect x="403.1" y="521.7" width="8.3" height="19.6" fill="#000"/>
<line x1="407.25" y1="521.7" x2="407.25" y2="518.8" stroke="#111" stroke-width="1.15"/>
<line x1="405.65" y1="518.8" x2="408.85" y2="518.8" stroke="#111" stroke-width="1.15"/>
<rect x="417.5" y="520.8" width="8.3" height="20.5" fill="#000"/>
<line x1="421.65" y1="520.8" x2="421.65" y2="519.8" stroke="#111" stroke-width="1.15"/>
<line x1="420.05" y1="519.8" x2="423.25" y2="519.8" stroke="#111" stroke-width="1.15"/>
<rect x="431.9" y="494.6" width="8.3" height="46.7" fill="#000"/>
<line x1="436.05" y1="494.6" x2="436.05" y2="488.8" stroke="#111" stroke-width="1.15"/>
<line x1="434.45" y1="488.8" x2="437.65" y2="488.8" stroke="#111" stroke-width="1.15"/>
<rect x="446.3" y="492.1" width="8.3" height="49.2" fill="#000"/>
<line x1="450.45" y1="492.1" x2="450.45" y2="485" stroke="#111" stroke-width="1.15"/>
<line x1="448.85" y1="485" x2="452.05" y2="485" stroke="#111" stroke-width="1.15"/>
<rect x="460.7" y="493" width="8.3" height="48.3" fill="#000"/>
<line x1="464.85" y1="493" x2="464.85" y2="486.9" stroke="#111" stroke-width="1.15"/>
<line x1="463.25" y1="486.9" x2="466.45" y2="486.9" stroke="#111" stroke-width="1.15"/>
<rect x="475.1" y="519" width="8.3" height="22.3" fill="#000"/>
<line x1="479.25" y1="519" x2="479.25" y2="515.2" stroke="#111" stroke-width="1.15"/>
<line x1="477.65" y1="515.2" x2="480.85" y2="515.2" stroke="#111" stroke-width="1.15"/>
<rect x="489.5" y="531.9" width="8.3" height="9.4" fill="#000"/>
<line x1="493.65" y1="531.9" x2="493.65" y2="529.6" stroke="#111" stroke-width="1.15"/>
<line x1="492.05" y1="529.6" x2="495.25" y2="529.6" stroke="#111" stroke-width="1.15"/>
<rect x="503.9" y="531" width="8.3" height="10.3" fill="#000"/>
<line x1="508.05" y1="531" x2="508.05" y2="527.7" stroke="#111" stroke-width="1.15"/>
<line x1="506.45" y1="527.7" x2="509.65" y2="527.7" stroke="#111" stroke-width="1.15"/>
<path d="M393.5 477.5 V473.7 H407.9 V477.5" fill="none" stroke="#222" stroke-width="0.8"/>
<text x="401.25" y="474.26" font-size="10.5" text-anchor="middle" fill="#000" stroke="#000" stroke-width="0.25" letter-spacing="1.1">**</text>
<path d="M421.5 486 V482.1 H436.3 V486" fill="none" stroke="#222" stroke-width="0.8"/>
<text x="429.45" y="484.16" font-size="10.5" text-anchor="middle" fill="#000" stroke="#000" stroke-width="0.25" letter-spacing="1.1">**</text>
<path d="M421.5 479.6 V475.2 H450.4 V479.6" fill="none" stroke="#222" stroke-width="0.8"/>
<text x="436.5" y="476.96" font-size="10.5" text-anchor="middle" fill="#000" stroke="#000" stroke-width="0.25" letter-spacing="1.1">**</text>
<path d="M421.5 471 V467.1 H465.2 V471" fill="none" stroke="#222" stroke-width="0.8"/>
<text x="441.45" y="468.76" font-size="10.5" text-anchor="middle" fill="#000" stroke="#000" stroke-width="0.25" letter-spacing="1.1">**</text>
<path d="M478.7 512.7 V509 H493.5 V512.7" fill="none" stroke="#222" stroke-width="0.8"/>
<text x="486.65" y="510.66" font-size="10.5" text-anchor="middle" fill="#000" stroke="#000" stroke-width="0.25" letter-spacing="1.1">**</text>
<path d="M478.7 505.6 V501.3 H508.5 V505.6" fill="none" stroke="#222" stroke-width="0.8"/>
<text x="494.15" y="502.46" font-size="10.5" text-anchor="middle" fill="#000" stroke="#000" stroke-width="0.25" letter-spacing="1.1">**</text>
<text x="393.2" y="554.04" font-size="7.6" text-anchor="middle" fill="#1a1a1a">(-)</text>
<text x="459" y="551.74" font-size="7.9" text-anchor="middle" fill="#1a1a1a">DICER</text>
<line x1="404.5" y1="553.9" x2="514.5" y2="553.9" stroke="#111" stroke-width="1.15"/>
<text x="407" y="563.78" font-size="8" text-anchor="middle" fill="#1a1a1a">(-)</text>
<text x="425.65" y="559.37" font-size="8" text-anchor="end" fill="#1a1a1a" transform="rotate(-45 425.65 559.37)">Vector</text>
<text x="440.05" y="559.37" font-size="8" text-anchor="end" fill="#1a1a1a" transform="rotate(-45 440.05 559.37)">MPRL</text>
<text x="454.45" y="559.37" font-size="8" text-anchor="end" fill="#1a1a1a" transform="rotate(-45 454.45 559.37)">MPRL(1–1,300)</text>
<text x="468.85" y="559.37" font-size="8" text-anchor="end" fill="#1a1a1a" transform="rotate(-45 468.85 559.37)">MPRL(1–1,100)</text>
<text x="483.25" y="559.37" font-size="8" text-anchor="end" fill="#1a1a1a" transform="rotate(-45 483.25 559.37)">Ctrl</text>
<text x="497.65" y="559.37" font-size="8" text-anchor="end" fill="#1a1a1a" transform="rotate(-45 497.65 559.37)">shMPRL1</text>
<text x="512.05" y="559.37" font-size="8" text-anchor="end" fill="#1a1a1a" transform="rotate(-45 512.05 559.37)">shMPRL3</text>
<text dy="2.88" x="357.9" y="504" font-size="8" text-anchor="middle" fill="#1a1a1a" transform="rotate(-90 357.9 504)">Pre–miR-483 levels</text>
<text x="336" y="625.2" font-size="15" text-anchor="start" font-weight="bold" fill="#000">L</text>
<line x1="382.5" y1="611.5" x2="382.5" y2="697.1" stroke="#111" stroke-width="1.3"/>
<line x1="381.9" y1="696.5" x2="513.5" y2="696.5" stroke="#111" stroke-width="1.3"/>
<line x1="379.3" y1="696.5" x2="382.1" y2="696.5" stroke="#111" stroke-width="1.3"/>
<text x="378" y="699.09" font-size="7.2" text-anchor="end" font-weight="bold" fill="#111">0</text>
<line x1="379.3" y1="679.6" x2="382.1" y2="679.6" stroke="#111" stroke-width="1.3"/>
<text x="378" y="682.19" font-size="7.2" text-anchor="end" font-weight="bold" fill="#111">1</text>
<line x1="379.3" y1="662.7" x2="382.1" y2="662.7" stroke="#111" stroke-width="1.3"/>
<text x="378" y="665.29" font-size="7.2" text-anchor="end" font-weight="bold" fill="#111">2</text>
<line x1="379.3" y1="645.8" x2="382.1" y2="645.8" stroke="#111" stroke-width="1.3"/>
<text x="378" y="648.39" font-size="7.2" text-anchor="end" font-weight="bold" fill="#111">3</text>
<line x1="379.3" y1="628.9" x2="382.1" y2="628.9" stroke="#111" stroke-width="1.3"/>
<text x="378" y="631.49" font-size="7.2" text-anchor="end" font-weight="bold" fill="#111">4</text>
<line x1="379.3" y1="612" x2="382.1" y2="612" stroke="#111" stroke-width="1.3"/>
<text x="378" y="614.59" font-size="7.2" text-anchor="end" font-weight="bold" fill="#111">5</text>
<rect x="388.7" y="679.8" width="8.3" height="16.7" fill="#000"/>
<line x1="392.85" y1="679.8" x2="392.85" y2="676.3" stroke="#111" stroke-width="1.15"/>
<line x1="391.25" y1="676.3" x2="394.45" y2="676.3" stroke="#111" stroke-width="1.15"/>
<rect x="403.1" y="654.4" width="8.3" height="42.1" fill="#000"/>
<line x1="407.25" y1="654.4" x2="407.25" y2="649.4" stroke="#111" stroke-width="1.15"/>
<line x1="405.65" y1="649.4" x2="408.85" y2="649.4" stroke="#111" stroke-width="1.15"/>
<rect x="417.5" y="651" width="8.3" height="45.5" fill="#000"/>
<line x1="421.65" y1="651" x2="421.65" y2="642.2" stroke="#111" stroke-width="1.15"/>
<line x1="420.05" y1="642.2" x2="423.25" y2="642.2" stroke="#111" stroke-width="1.15"/>
<rect x="431.9" y="674.4" width="8.3" height="22.1" fill="#000"/>
<line x1="436.05" y1="674.4" x2="436.05" y2="671.3" stroke="#111" stroke-width="1.15"/>
<line x1="434.45" y1="671.3" x2="437.65" y2="671.3" stroke="#111" stroke-width="1.15"/>
<rect x="446.3" y="679.6" width="8.3" height="16.9" fill="#000"/>
<line x1="450.45" y1="679.6" x2="450.45" y2="676.7" stroke="#111" stroke-width="1.15"/>
<line x1="448.85" y1="676.7" x2="452.05" y2="676.7" stroke="#111" stroke-width="1.15"/>
<rect x="460.7" y="678" width="8.3" height="18.5" fill="#000"/>
<line x1="464.85" y1="678" x2="464.85" y2="674.8" stroke="#111" stroke-width="1.15"/>
<line x1="463.25" y1="674.8" x2="466.45" y2="674.8" stroke="#111" stroke-width="1.15"/>
<rect x="475.1" y="651.7" width="8.3" height="44.8" fill="#000"/>
<line x1="479.25" y1="651.7" x2="479.25" y2="649.4" stroke="#111" stroke-width="1.15"/>
<line x1="477.65" y1="649.4" x2="480.85" y2="649.4" stroke="#111" stroke-width="1.15"/>
<rect x="489.5" y="627.3" width="8.3" height="69.2" fill="#000"/>
<line x1="493.65" y1="627.3" x2="493.65" y2="619.4" stroke="#111" stroke-width="1.15"/>
<line x1="492.05" y1="619.4" x2="495.25" y2="619.4" stroke="#111" stroke-width="1.15"/>
<rect x="503.9" y="623.8" width="8.3" height="72.7" fill="#000"/>
<line x1="508.05" y1="623.8" x2="508.05" y2="614.2" stroke="#111" stroke-width="1.15"/>
<line x1="506.45" y1="614.2" x2="509.65" y2="614.2" stroke="#111" stroke-width="1.15"/>
<path d="M392.9 645.2 V640.4 H407.9 V645.2" fill="none" stroke="#222" stroke-width="0.8"/>
<text x="400.95" y="641.96" font-size="10.5" text-anchor="middle" fill="#000" stroke="#000" stroke-width="0.25" letter-spacing="1.1">**</text>
<path d="M421.5 638.8 V634.4 H435.8 V638.8" fill="none" stroke="#222" stroke-width="0.8"/>
<text x="429.2" y="636.06" font-size="10.5" text-anchor="middle" fill="#000" stroke="#000" stroke-width="0.25" letter-spacing="1.1">**</text>
<path d="M421.5 632 V627.7 H449.8 V632" fill="none" stroke="#222" stroke-width="0.8"/>
<text x="436.2" y="629.26" font-size="10.5" text-anchor="middle" fill="#000" stroke="#000" stroke-width="0.25" letter-spacing="1.1">**</text>
<path d="M421.5 623.8 V619.4 H464.8 V623.8" fill="none" stroke="#222" stroke-width="0.8"/>
<text x="443.7" y="620.66" font-size="10.5" text-anchor="middle" fill="#000" stroke="#000" stroke-width="0.25" letter-spacing="1.1">**</text>
<path d="M478.7 617.7 V613.3 H493 V617.7" fill="none" stroke="#222" stroke-width="0.8"/>
<text x="486.4" y="615.46" font-size="10.5" text-anchor="middle" fill="#000" stroke="#000" stroke-width="0.25" letter-spacing="1.1">**</text>
<path d="M478.7 610.4 V605.6 H507.9 V610.4" fill="none" stroke="#222" stroke-width="0.8"/>
<text x="493.85" y="607.76" font-size="10.5" text-anchor="middle" fill="#000" stroke="#000" stroke-width="0.25" letter-spacing="1.1">**</text>
<text x="393.2" y="709.24" font-size="7.6" text-anchor="middle" fill="#1a1a1a">(-)</text>
<text x="459" y="706.94" font-size="7.9" text-anchor="middle" fill="#1a1a1a">DICER</text>
<line x1="404.5" y1="709.1" x2="514.5" y2="709.1" stroke="#111" stroke-width="1.15"/>
<text x="407" y="718.08" font-size="8" text-anchor="middle" fill="#1a1a1a">(-)</text>
<text x="424.45" y="713.87" font-size="8" text-anchor="end" fill="#1a1a1a" transform="rotate(-45 424.45 713.87)">Vector</text>
<text x="438.85" y="713.87" font-size="8" text-anchor="end" fill="#1a1a1a" transform="rotate(-45 438.85 713.87)">MPRL</text>
<text x="453.25" y="713.87" font-size="8" text-anchor="end" fill="#1a1a1a" transform="rotate(-45 453.25 713.87)">MPRL(1–1,300)</text>
<text x="467.65" y="713.87" font-size="8" text-anchor="end" fill="#1a1a1a" transform="rotate(-45 467.65 713.87)">MPRL(1–1,100)</text>
<text x="482.05" y="713.87" font-size="8" text-anchor="end" fill="#1a1a1a" transform="rotate(-45 482.05 713.87)">Ctrl</text>
<text x="496.45" y="713.87" font-size="8" text-anchor="end" fill="#1a1a1a" transform="rotate(-45 496.45 713.87)">shMPRL1</text>
<text x="510.85" y="713.87" font-size="8" text-anchor="end" fill="#1a1a1a" transform="rotate(-45 510.85 713.87)">shMPRL3</text>
<text dy="2.88" x="359.8" y="657" font-size="8" text-anchor="middle" fill="#1a1a1a" transform="rotate(-90 359.8 657)">miR-483-5p levels</text>
</svg>
</div>
</body></html>
